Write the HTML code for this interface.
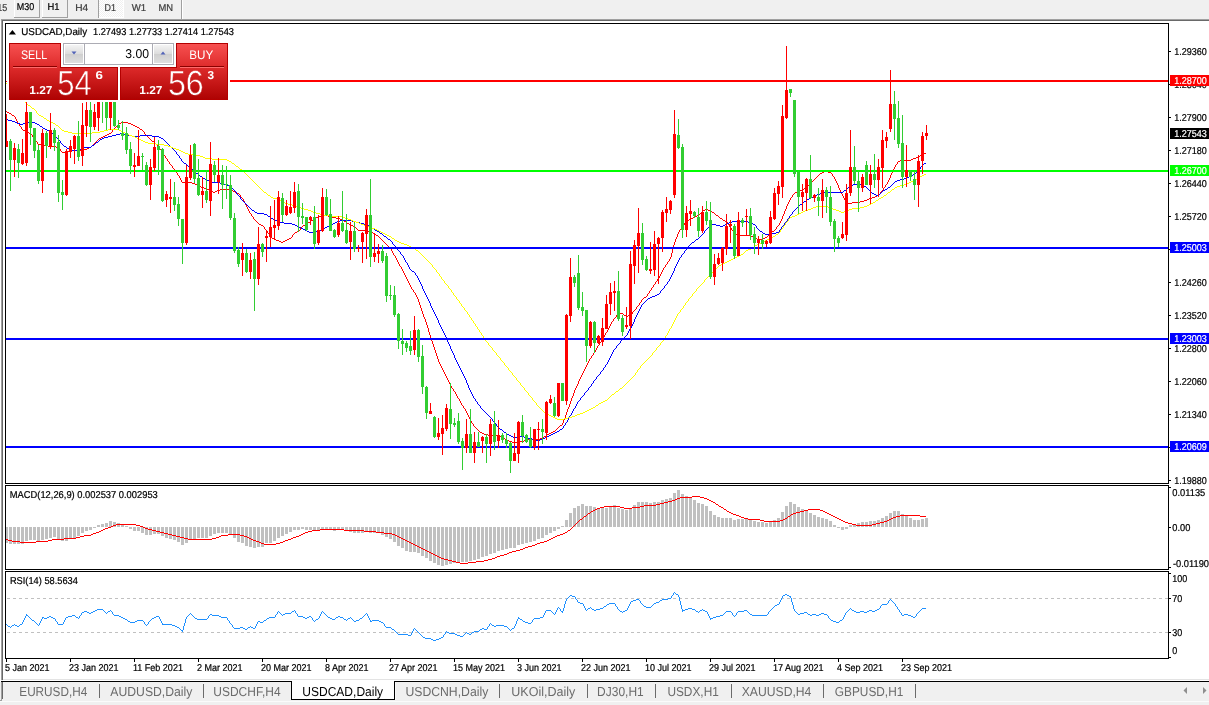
<!DOCTYPE html>
<html lang="en"><head><meta charset="utf-8"><title>USDCAD,Daily</title>
<style>
html,body{margin:0;padding:0;background:#f0f0f0;overflow:hidden}
body{width:1209px;height:705px}
svg{display:block;font-family:"Liberation Sans",sans-serif;shape-rendering:crispEdges}
text{text-rendering:geometricPrecision;white-space:pre}
</style></head><body>
<svg width="1209" height="705" viewBox="0 0 1209 705">
<rect x="0" y="0" width="1209" height="705" fill="#f0f0f0"/>
<g id="timeframe-toolbar" aria-label="Timeframe toolbar">
<text x="7.3" y="10.8" font-size="10" fill="#3c3c3c" textLength="17.5" lengthAdjust="spacingAndGlyphs" text-anchor="end" stroke="#3c3c3c" stroke-width="0.22">M15</text>
<rect x="14" y="0" width="1" height="17" fill="#fff"/>
<rect x="39" y="0" width="1" height="18" fill="#a0a0a0"/>
<rect x="14" y="17" width="26" height="1" fill="#a0a0a0"/>
<text x="16.8" y="9.6" font-size="10" fill="#000" textLength="17.4" lengthAdjust="spacingAndGlyphs" stroke="#000" stroke-width="0.22">M30</text>
<rect x="42" y="0" width="1" height="17" fill="#fff"/>
<rect x="67" y="0" width="1" height="18" fill="#a0a0a0"/>
<rect x="42" y="17" width="26" height="1" fill="#a0a0a0"/>
<text x="47.5" y="9.6" font-size="10" fill="#000" textLength="12" lengthAdjust="spacingAndGlyphs" stroke="#000" stroke-width="0.22">H1</text>
<text x="75.2" y="10.8" font-size="10" fill="#3c3c3c" textLength="13" lengthAdjust="spacingAndGlyphs" stroke="#3c3c3c" stroke-width="0.22">H4</text>
<defs><pattern id="dith" x="99" y="0" width="2" height="2" patternUnits="userSpaceOnUse"><rect width="2" height="2" fill="#f0f0f0"/><rect width="1" height="1" fill="#fff"/><rect x="1" y="1" width="1" height="1" fill="#fff"/></pattern></defs>
<rect x="99" y="0" width="24" height="17" fill="url(#dith)"/>
<rect x="98" y="0" width="1" height="18" fill="#a0a0a0"/>
<rect x="123" y="0" width="1" height="18" fill="#fff"/>
<rect x="99" y="17" width="25" height="1" fill="#fff"/>
<text x="104.6" y="10.8" font-size="10" fill="#3c3c3c" textLength="11.4" lengthAdjust="spacingAndGlyphs" stroke="#3c3c3c" stroke-width="0.22">D1</text>
<text x="131.8" y="10.8" font-size="10" fill="#3c3c3c" textLength="14.4" lengthAdjust="spacingAndGlyphs" stroke="#3c3c3c" stroke-width="0.22">W1</text>
<text x="158.4" y="10.8" font-size="10" fill="#3c3c3c" textLength="14.6" lengthAdjust="spacingAndGlyphs" stroke="#3c3c3c" stroke-width="0.22">MN</text>
<rect x="181" y="0" width="1" height="19" fill="#a0a0a0"/>
<rect x="182" y="0" width="1" height="19" fill="#fff"/>
</g>
<rect x="3" y="21" width="1206" height="658" fill="#fff"/>
<rect x="0" y="19" width="1209" height="1" fill="#a0a0a0"/>
<rect x="0" y="20" width="1209" height="1" fill="#696969"/>
<rect x="0" y="19" width="1" height="2" fill="#f0f0f0"/>
<rect x="1" y="19" width="1" height="661" fill="#a0a0a0"/>
<rect x="2" y="20" width="1" height="660" fill="#696969"/>
<rect x="0" y="21" width="1" height="680" fill="#fff"/>
<rect x="5" y="23" width="1164" height="1" fill="#000"/>
<rect x="5" y="483" width="1164" height="1" fill="#000"/>
<rect x="5" y="23" width="1" height="461" fill="#000"/>
<rect x="1168" y="23" width="1" height="461" fill="#000"/>
<rect x="5" y="485" width="1164" height="1" fill="#000"/>
<rect x="5" y="569" width="1164" height="1" fill="#000"/>
<rect x="5" y="485" width="1" height="85" fill="#000"/>
<rect x="1168" y="485" width="1" height="85" fill="#000"/>
<rect x="5" y="571" width="1164" height="1" fill="#000"/>
<rect x="5" y="658" width="1164" height="1" fill="#000"/>
<rect x="5" y="571" width="1" height="88" fill="#000"/>
<rect x="1168" y="571" width="1" height="88" fill="#000"/>
<g id="chart" aria-label="USDCAD daily chart with MACD and RSI">
<clipPath id="cm"><rect x="6" y="24" width="1162" height="459"/></clipPath>
<g clip-path="url(#cm)">
<path fill="#ff0000" d="M281 242h2v1h-2zM384 242h1v1h-1zM674 242h1v1h-1zM488 435h11v1h-11zM546 435h1v1h-1zM468 415h1v1h-1zM565 415h1v1h-1zM249 212h1v1h-1zM701 212h1v1h-1zM712 212h2v1h-2zM784 212h1v1h-1zM441 367h1v1h-1zM585 367h1v1h-1zM253 218h1v1h-1zM315 218h1v1h-1zM336 218h4v1h-4zM691 218h2v1h-2zM720 218h2v1h-2zM782 218h1v1h-1zM34 138h1v1h-1zM99 138h2v1h-2zM149 138h1v1h-1zM199 186h2v1h-2zM807 186h1v1h-1zM838 186h1v1h-1zM885 186h1v1h-1zM176 172h1v1h-1zM822 172h2v1h-2zM828 172h3v1h-3zM892 172h1v1h-1zM56 147h3v1h-3zM89 147h2v1h-2zM159 147h1v1h-1zM242 198h1v1h-1zM790 198h1v1h-1zM844 198h1v1h-1zM869 198h3v1h-3zM37 143h1v1h-1zM94 143h1v1h-1zM155 143h1v1h-1zM431 339h1v1h-1zM602 339h1v1h-1zM16 120h1v1h-1zM255 220h1v1h-1zM311 220h2v1h-2zM343 220h1v1h-1zM687 220h2v1h-2zM723 220h2v1h-2zM781 220h1v1h-1zM448 381h1v1h-1zM578 381h1v1h-1zM263 226h1v1h-1zM302 226h1v1h-1zM353 226h2v1h-2zM682 226h1v1h-1zM729 226h1v1h-1zM777 226h1v1h-1zM165 157h1v1h-1zM916 157h3v1h-3zM38 144h6v1h-6zM93 144h1v1h-1zM156 144h1v1h-1zM22 129h1v1h-1zM113 129h1v1h-1zM140 129h2v1h-2zM237 193h2v1h-2zM794 193h1v1h-1zM841 193h1v1h-1zM880 193h1v1h-1zM252 216h1v1h-1zM318 216h6v1h-6zM328 216h4v1h-4zM695 216h2v1h-2zM718 216h1v1h-1zM782 216h1v1h-1zM19 125h1v1h-1zM117 125h1v1h-1zM133 125h2v1h-2zM207 189h2v1h-2zM220 189h11v1h-11zM803 189h1v1h-1zM839 189h1v1h-1zM883 189h1v1h-1zM7 112h2v1h-2zM60 150h1v1h-1zM72 150h12v1h-12zM161 150h1v1h-1zM505 439h2v1h-2zM528 439h12v1h-12zM435 352h1v1h-1zM594 352h1v1h-1zM438 361h1v1h-1zM588 361h1v1h-1zM267 232h1v1h-1zM295 232h2v1h-2zM371 232h2v1h-2zM678 232h1v1h-1zM733 232h1v1h-1zM771 232h1v1h-1zM33 137h1v1h-1zM101 137h2v1h-2zM148 137h1v1h-1zM265 229h1v1h-1zM300 229h1v1h-1zM357 229h1v1h-1zM680 229h1v1h-1zM731 229h1v1h-1zM775 229h1v1h-1zM391 249h1v1h-1zM672 249h1v1h-1zM48 146h8v1h-8zM91 146h1v1h-1zM158 146h1v1h-1zM245 204h1v1h-1zM787 204h1v1h-1zM276 240h3v1h-3zM285 240h2v1h-2zM382 240h1v1h-1zM675 240h1v1h-1zM426 324h1v1h-1zM610 324h1v1h-1zM239 194h1v1h-1zM793 194h1v1h-1zM842 194h1v1h-1zM879 194h1v1h-1zM269 234h1v1h-1zM293 234h1v1h-1zM375 234h1v1h-1zM677 234h1v1h-1zM736 234h4v1h-4zM769 234h1v1h-1zM166 158h1v1h-1zM913 158h3v1h-3zM60 149h1v1h-1zM84 149h3v1h-3zM160 149h1v1h-1zM248 209h1v1h-1zM705 209h3v1h-3zM785 209h1v1h-1zM438 359h1v1h-1zM589 359h1v1h-1zM387 245h1v1h-1zM673 245h1v1h-1zM251 215h1v1h-1zM324 215h4v1h-4zM697 215h2v1h-2zM716 215h2v1h-2zM783 215h1v1h-1zM410 285h1v1h-1zM653 285h1v1h-1zM192 183h3v1h-3zM810 183h1v1h-1zM837 183h1v1h-1zM887 183h1v1h-1zM259 224h2v1h-2zM305 224h2v1h-2zM349 224h2v1h-2zM684 224h1v1h-1zM728 224h1v1h-1zM779 224h1v1h-1zM472 423h1v1h-1zM562 423h1v1h-1zM264 227h1v1h-1zM301 227h1v1h-1zM355 227h1v1h-1zM681 227h1v1h-1zM730 227h1v1h-1zM776 227h1v1h-1zM182 182h10v1h-10zM811 182h1v1h-1zM836 182h1v1h-1zM887 182h1v1h-1zM167 159h1v1h-1zM911 159h2v1h-2zM241 197h1v1h-1zM791 197h1v1h-1zM843 197h1v1h-1zM872 197h3v1h-3zM253 217h1v1h-1zM316 217h2v1h-2zM332 217h4v1h-4zM693 217h2v1h-2zM719 217h1v1h-1zM782 217h1v1h-1zM413 291h1v1h-1zM649 291h1v1h-1zM59 148h1v1h-1zM87 148h2v1h-2zM159 148h1v1h-1zM170 164h1v1h-1zM896 164h1v1h-1zM416 296h1v1h-1zM646 296h1v1h-1zM397 261h1v1h-1zM668 261h1v1h-1zM18 123h1v1h-1zM119 123h2v1h-2zM128 123h3v1h-3zM433 345h1v1h-1zM598 345h1v1h-1zM250 213h1v1h-1zM700 213h1v1h-1zM714 213h1v1h-1zM784 213h1v1h-1zM424 318h1v1h-1zM614 318h1v1h-1zM179 177h1v1h-1zM816 177h1v1h-1zM834 177h1v1h-1zM890 177h1v1h-1zM272 238h2v1h-2zM289 238h2v1h-2zM380 238h1v1h-1zM676 238h1v1h-1zM755 238h2v1h-2zM763 238h2v1h-2zM405 275h1v1h-1zM660 275h1v1h-1zM271 237h1v1h-1zM291 237h1v1h-1zM379 237h1v1h-1zM676 237h1v1h-1zM753 237h2v1h-2zM765 237h2v1h-2zM268 233h1v1h-1zM294 233h1v1h-1zM373 233h2v1h-2zM678 233h1v1h-1zM734 233h2v1h-2zM770 233h1v1h-1zM409 284h1v1h-1zM654 284h1v1h-1zM274 239h2v1h-2zM287 239h2v1h-2zM381 239h1v1h-1zM675 239h1v1h-1zM757 239h6v1h-6zM417 297h1v1h-1zM644 297h2v1h-2zM258 223h1v1h-1zM307 223h1v1h-1zM347 223h2v1h-2zM684 223h1v1h-1zM727 223h1v1h-1zM779 223h1v1h-1zM248 210h1v1h-1zM703 210h2v1h-2zM708 210h3v1h-3zM785 210h1v1h-1zM406 278h1v1h-1zM658 278h1v1h-1zM211 191h2v1h-2zM215 191h2v1h-2zM233 191h2v1h-2zM797 191h3v1h-3zM840 191h1v1h-1zM881 191h1v1h-1zM414 292h1v1h-1zM649 292h1v1h-1zM167 160h1v1h-1zM900 160h11v1h-11zM420 307h1v1h-1zM636 307h1v1h-1zM266 230h1v1h-1zM299 230h1v1h-1zM358 230h10v1h-10zM679 230h1v1h-1zM732 230h1v1h-1zM774 230h1v1h-1zM44 145h4v1h-4zM92 145h1v1h-1zM157 145h1v1h-1zM269 235h1v1h-1zM292 235h1v1h-1zM376 235h2v1h-2zM677 235h1v1h-1zM740 235h11v1h-11zM768 235h1v1h-1zM209 190h2v1h-2zM217 190h3v1h-3zM231 190h2v1h-2zM800 190h3v1h-3zM840 190h1v1h-1zM882 190h1v1h-1zM455 392h1v1h-1zM574 392h1v1h-1zM163 154h1v1h-1zM922 154h2v1h-2zM441 366h1v1h-1zM586 366h1v1h-1zM249 211h1v1h-1zM702 211h1v1h-1zM711 211h1v1h-1zM784 211h1v1h-1zM425 320h1v1h-1zM613 320h1v1h-1zM470 420h1v1h-1zM563 420h1v1h-1zM37 142h1v1h-1zM95 142h1v1h-1zM154 142h1v1h-1zM169 163h1v1h-1zM897 163h1v1h-1zM62 152h6v1h-6zM162 152h1v1h-1zM473 425h1v1h-1zM560 425h2v1h-2zM244 202h1v1h-1zM788 202h1v1h-1zM846 202h2v1h-2zM852 202h8v1h-8zM35 139h1v1h-1zM98 139h1v1h-1zM150 139h1v1h-1zM512 442h8v1h-8zM213 192h2v1h-2zM235 192h2v1h-2zM795 192h2v1h-2zM841 192h1v1h-1zM880 192h1v1h-1zM251 214h1v1h-1zM699 214h1v1h-1zM715 214h1v1h-1zM783 214h1v1h-1zM165 156h1v1h-1zM919 156h1v1h-1zM29 133h2v1h-2zM109 133h2v1h-2zM144 133h1v1h-1zM421 308h1v1h-1zM636 308h1v1h-1zM264 228h1v1h-1zM300 228h1v1h-1zM356 228h1v1h-1zM681 228h1v1h-1zM731 228h1v1h-1zM776 228h1v1h-1zM245 203h1v1h-1zM788 203h1v1h-1zM848 203h4v1h-4zM195 184h2v1h-2zM809 184h1v1h-1zM837 184h1v1h-1zM886 184h1v1h-1zM261 225h2v1h-2zM303 225h2v1h-2zM351 225h2v1h-2zM683 225h1v1h-1zM729 225h1v1h-1zM778 225h1v1h-1zM412 289h1v1h-1zM651 289h1v1h-1zM456 395h1v1h-1zM573 395h1v1h-1zM427 327h1v1h-1zM609 327h1v1h-1zM240 195h1v1h-1zM792 195h1v1h-1zM842 195h1v1h-1zM877 195h2v1h-2zM423 316h1v1h-1zM616 316h1v1h-1zM626 316h2v1h-2zM432 341h1v1h-1zM601 341h1v1h-1zM413 290h1v1h-1zM650 290h1v1h-1zM507 440h2v1h-2zM524 440h4v1h-4zM416 295h1v1h-1zM647 295h1v1h-1zM479 431h1v1h-1zM553 431h2v1h-2zM244 201h1v1h-1zM789 201h1v1h-1zM845 201h1v1h-1zM860 201h4v1h-4zM434 349h1v1h-1zM596 349h1v1h-1zM404 274h1v1h-1zM660 274h1v1h-1zM499 436h2v1h-2zM544 436h2v1h-2zM15 118h1v1h-1zM35 140h1v1h-1zM97 140h1v1h-1zM151 140h1v1h-1zM409 283h1v1h-1zM655 283h1v1h-1zM476 428h1v1h-1zM557 428h1v1h-1zM180 179h1v1h-1zM814 179h1v1h-1zM835 179h1v1h-1zM889 179h1v1h-1zM482 433h2v1h-2zM549 433h2v1h-2zM429 334h1v1h-1zM605 334h1v1h-1zM175 171h1v1h-1zM824 171h4v1h-4zM892 171h1v1h-1zM422 313h1v1h-1zM618 313h5v1h-5zM632 313h1v1h-1zM204 188h3v1h-3zM804 188h2v1h-2zM839 188h1v1h-1zM883 188h1v1h-1zM440 364h1v1h-1zM587 364h1v1h-1zM420 306h1v1h-1zM637 306h1v1h-1zM469 418h1v1h-1zM564 418h1v1h-1zM401 267h1v1h-1zM664 267h1v1h-1zM398 263h1v1h-1zM667 263h1v1h-1zM25 131h2v1h-2zM112 131h1v1h-1zM143 131h1v1h-1zM240 196h1v1h-1zM792 196h1v1h-1zM843 196h1v1h-1zM875 196h2v1h-2zM243 199h1v1h-1zM790 199h1v1h-1zM844 199h1v1h-1zM867 199h2v1h-2zM256 221h1v1h-1zM310 221h1v1h-1zM344 221h2v1h-2zM686 221h1v1h-1zM725 221h2v1h-2zM780 221h1v1h-1zM408 281h1v1h-1zM656 281h1v1h-1zM425 319h1v1h-1zM613 319h1v1h-1zM426 322h1v1h-1zM611 322h1v1h-1zM270 236h1v1h-1zM292 236h1v1h-1zM378 236h1v1h-1zM677 236h1v1h-1zM751 236h2v1h-2zM767 236h1v1h-1zM470 419h1v1h-1zM564 419h1v1h-1zM169 162h1v1h-1zM897 162h1v1h-1zM243 200h1v1h-1zM789 200h1v1h-1zM845 200h1v1h-1zM864 200h3v1h-3zM257 222h1v1h-1zM308 222h2v1h-2zM346 222h1v1h-1zM685 222h1v1h-1zM727 222h1v1h-1zM780 222h1v1h-1zM17 122h1v1h-1zM121 122h7v1h-7zM473 424h1v1h-1zM562 424h1v1h-1zM177 174h1v1h-1zM819 174h1v1h-1zM832 174h1v1h-1zM891 174h1v1h-1zM172 167h1v1h-1zM894 167h1v1h-1zM419 304h1v1h-1zM639 304h1v1h-1zM392 252h1v1h-1zM672 252h1v1h-1zM423 315h1v1h-1zM616 315h1v1h-1zM624 315h2v1h-2zM628 315h3v1h-3zM267 231h1v1h-1zM297 231h2v1h-2zM368 231h3v1h-3zM679 231h1v1h-1zM733 231h1v1h-1zM772 231h2v1h-2zM408 282h1v1h-1zM655 282h1v1h-1zM395 256h1v1h-1zM671 256h1v1h-1zM471 421h1v1h-1zM563 421h1v1h-1zM480 432h2v1h-2zM551 432h2v1h-2zM427 326h1v1h-1zM609 326h1v1h-1zM451 387h1v1h-1zM576 387h1v1h-1zM503 438h2v1h-2zM540 438h3v1h-3zM405 276h1v1h-1zM659 276h1v1h-1zM254 219h1v1h-1zM313 219h2v1h-2zM340 219h3v1h-3zM689 219h2v1h-2zM722 219h1v1h-1zM781 219h1v1h-1zM14 116h1v1h-1zM386 244h1v1h-1zM674 244h1v1h-1zM501 437h2v1h-2zM543 437h1v1h-1zM415 294h1v1h-1zM647 294h1v1h-1zM61 151h1v1h-1zM68 151h4v1h-4zM161 151h1v1h-1zM446 376h1v1h-1zM581 376h1v1h-1zM406 277h1v1h-1zM659 277h1v1h-1zM484 434h4v1h-4zM547 434h2v1h-2zM429 333h1v1h-1zM605 333h1v1h-1zM428 329h1v1h-1zM608 329h1v1h-1zM247 207h1v1h-1zM786 207h1v1h-1zM437 358h1v1h-1zM590 358h1v1h-1zM398 262h1v1h-1zM667 262h1v1h-1zM461 404h1v1h-1zM569 404h1v1h-1zM469 417h1v1h-1zM565 417h1v1h-1zM462 405h1v1h-1zM569 405h1v1h-1zM415 293h1v1h-1zM648 293h1v1h-1zM172 166h1v1h-1zM895 166h1v1h-1zM430 336h1v1h-1zM604 336h1v1h-1zM419 303h1v1h-1zM639 303h1v1h-1zM163 153h1v1h-1zM924 153h2v1h-2zM23 130h2v1h-2zM112 130h1v1h-1zM142 130h1v1h-1zM394 255h1v1h-1zM671 255h1v1h-1zM21 128h1v1h-1zM114 128h1v1h-1zM139 128h1v1h-1zM402 269h1v1h-1zM663 269h1v1h-1zM164 155h1v1h-1zM920 155h2v1h-2zM509 441h3v1h-3zM520 441h4v1h-4zM451 386h1v1h-1zM576 386h1v1h-1zM450 384h1v1h-1zM577 384h1v1h-1zM478 430h1v1h-1zM555 430h1v1h-1zM178 175h1v1h-1zM818 175h1v1h-1zM832 175h1v1h-1zM890 175h1v1h-1zM9 113h2v1h-2zM279 241h2v1h-2zM283 241h2v1h-2zM383 241h1v1h-1zM675 241h1v1h-1zM396 258h1v1h-1zM670 258h1v1h-1zM246 205h1v1h-1zM787 205h1v1h-1zM468 416h1v1h-1zM565 416h1v1h-1zM457 397h1v1h-1zM572 397h1v1h-1zM465 410h1v1h-1zM567 410h1v1h-1zM453 389h1v1h-1zM575 389h1v1h-1zM20 126h1v1h-1zM116 126h1v1h-1zM135 126h2v1h-2zM439 363h1v1h-1zM587 363h1v1h-1zM418 299h1v1h-1zM642 299h1v1h-1zM450 385h1v1h-1zM577 385h1v1h-1zM458 398h1v1h-1zM571 398h1v1h-1zM12 115h2v1h-2zM461 403h1v1h-1zM570 403h1v1h-1zM201 187h3v1h-3zM806 187h1v1h-1zM838 187h1v1h-1zM884 187h1v1h-1zM435 350h1v1h-1zM595 350h1v1h-1zM407 279h1v1h-1zM657 279h1v1h-1zM425 321h1v1h-1zM612 321h1v1h-1zM247 208h1v1h-1zM786 208h1v1h-1zM17 121h1v1h-1zM424 317h1v1h-1zM615 317h1v1h-1zM437 356h1v1h-1zM591 356h1v1h-1zM19 124h1v1h-1zM118 124h1v1h-1zM131 124h2v1h-2zM6 111h1v1h-1zM393 254h1v1h-1zM671 254h1v1h-1zM439 362h1v1h-1zM588 362h1v1h-1zM431 338h1v1h-1zM603 338h1v1h-1zM171 165h1v1h-1zM895 165h1v1h-1zM475 427h1v1h-1zM558 427h1v1h-1zM453 390h1v1h-1zM574 390h1v1h-1zM27 132h2v1h-2zM111 132h1v1h-1zM144 132h1v1h-1zM395 257h1v1h-1zM670 257h1v1h-1zM444 373h1v1h-1zM582 373h1v1h-1zM474 426h1v1h-1zM559 426h1v1h-1zM168 161h1v1h-1zM898 161h2v1h-2zM459 400h1v1h-1zM571 400h1v1h-1zM449 383h1v1h-1zM578 383h1v1h-1zM457 396h1v1h-1zM572 396h1v1h-1zM181 180h1v1h-1zM813 180h1v1h-1zM835 180h1v1h-1zM888 180h1v1h-1zM452 388h1v1h-1zM575 388h1v1h-1zM428 331h1v1h-1zM607 331h1v1h-1zM21 127h1v1h-1zM115 127h1v1h-1zM137 127h2v1h-2zM403 272h1v1h-1zM661 272h1v1h-1zM197 185h2v1h-2zM808 185h1v1h-1zM838 185h1v1h-1zM885 185h1v1h-1zM32 136h1v1h-1zM103 136h2v1h-2zM147 136h1v1h-1zM16 119h1v1h-1zM399 264h1v1h-1zM666 264h1v1h-1zM428 328h1v1h-1zM608 328h1v1h-1zM438 360h1v1h-1zM589 360h1v1h-1zM400 266h1v1h-1zM665 266h1v1h-1zM420 305h1v1h-1zM638 305h1v1h-1zM467 414h1v1h-1zM566 414h1v1h-1zM418 301h1v1h-1zM641 301h1v1h-1zM31 134h1v1h-1zM107 134h2v1h-2zM145 134h1v1h-1zM460 402h1v1h-1zM570 402h1v1h-1zM403 271h1v1h-1zM662 271h1v1h-1zM422 311h1v1h-1zM633 311h1v1h-1zM464 408h1v1h-1zM568 408h1v1h-1zM177 173h1v1h-1zM820 173h2v1h-2zM831 173h1v1h-1zM891 173h1v1h-1zM36 141h1v1h-1zM96 141h1v1h-1zM152 141h2v1h-2zM397 260h1v1h-1zM669 260h1v1h-1zM446 377h1v1h-1zM580 377h1v1h-1zM399 265h1v1h-1zM665 265h1v1h-1zM449 382h1v1h-1zM578 382h1v1h-1zM390 248h1v1h-1zM673 248h1v1h-1zM402 270h1v1h-1zM662 270h1v1h-1zM454 391h1v1h-1zM574 391h1v1h-1zM440 365h1v1h-1zM586 365h1v1h-1zM388 246h1v1h-1zM673 246h1v1h-1zM396 259h1v1h-1zM669 259h1v1h-1zM463 407h1v1h-1zM568 407h1v1h-1zM466 412h1v1h-1zM566 412h1v1h-1zM430 337h1v1h-1zM603 337h1v1h-1zM173 168h1v1h-1zM894 168h1v1h-1zM181 181h1v1h-1zM812 181h1v1h-1zM836 181h1v1h-1zM888 181h1v1h-1zM463 406h1v1h-1zM569 406h1v1h-1zM467 413h1v1h-1zM566 413h1v1h-1zM418 300h1v1h-1zM641 300h1v1h-1zM456 394h1v1h-1zM573 394h1v1h-1zM174 169h1v1h-1zM893 169h1v1h-1zM460 401h1v1h-1zM570 401h1v1h-1zM431 340h1v1h-1zM601 340h1v1h-1zM434 348h1v1h-1zM596 348h1v1h-1zM15 117h1v1h-1zM445 375h1v1h-1zM581 375h1v1h-1zM434 347h1v1h-1zM597 347h1v1h-1zM404 273h1v1h-1zM661 273h1v1h-1zM389 247h1v1h-1zM673 247h1v1h-1zM180 178h1v1h-1zM815 178h1v1h-1zM834 178h1v1h-1zM889 178h1v1h-1zM392 251h1v1h-1zM672 251h1v1h-1zM455 393h1v1h-1zM573 393h1v1h-1zM436 354h1v1h-1zM593 354h1v1h-1zM466 411h1v1h-1zM567 411h1v1h-1zM407 280h1v1h-1zM657 280h1v1h-1zM442 368h1v1h-1zM585 368h1v1h-1zM11 114h1v1h-1zM459 399h1v1h-1zM571 399h1v1h-1zM411 287h1v1h-1zM652 287h1v1h-1zM448 380h1v1h-1zM579 380h1v1h-1zM423 314h1v1h-1zM617 314h1v1h-1zM623 314h1v1h-1zM631 314h1v1h-1zM433 346h1v1h-1zM597 346h1v1h-1zM427 325h1v1h-1zM610 325h1v1h-1zM437 357h1v1h-1zM591 357h1v1h-1zM391 250h1v1h-1zM672 250h1v1h-1zM477 429h1v1h-1zM556 429h1v1h-1zM422 312h1v1h-1zM632 312h1v1h-1zM447 378h1v1h-1zM580 378h1v1h-1zM430 335h1v1h-1zM604 335h1v1h-1zM447 379h1v1h-1zM579 379h1v1h-1zM179 176h1v1h-1zM817 176h1v1h-1zM833 176h1v1h-1zM890 176h1v1h-1zM436 353h1v1h-1zM593 353h1v1h-1zM401 268h1v1h-1zM663 268h1v1h-1zM32 135h1v1h-1zM105 135h2v1h-2zM146 135h1v1h-1zM419 302h1v1h-1zM640 302h1v1h-1zM432 342h1v1h-1zM600 342h1v1h-1zM421 309h1v1h-1zM635 309h1v1h-1zM443 370h1v1h-1zM584 370h1v1h-1zM436 355h1v1h-1zM592 355h1v1h-1zM465 409h1v1h-1zM567 409h1v1h-1zM393 253h1v1h-1zM671 253h1v1h-1zM444 372h1v1h-1zM583 372h1v1h-1zM433 344h1v1h-1zM599 344h1v1h-1zM426 323h1v1h-1zM611 323h1v1h-1zM442 369h1v1h-1zM584 369h1v1h-1zM175 170h1v1h-1zM893 170h1v1h-1zM411 288h1v1h-1zM651 288h1v1h-1zM471 422h1v1h-1zM563 422h1v1h-1zM428 330h1v1h-1zM607 330h1v1h-1zM443 371h1v1h-1zM583 371h1v1h-1zM417 298h1v1h-1zM643 298h1v1h-1zM432 343h1v1h-1zM599 343h1v1h-1zM246 206h1v1h-1zM786 206h1v1h-1zM435 351h1v1h-1zM595 351h1v1h-1zM385 243h1v1h-1zM674 243h1v1h-1zM421 310h1v1h-1zM634 310h1v1h-1zM429 332h1v1h-1zM606 332h1v1h-1zM410 286h1v1h-1zM653 286h1v1h-1zM445 374h1v1h-1zM582 374h1v1h-1z"/>
<path fill="#0000ff" d="M17 123h3v1h-3zM23 123h2v1h-2zM35 123h2v1h-2zM422 287h1v1h-1zM664 287h1v1h-1zM178 155h1v1h-1zM499 428h1v1h-1zM562 428h1v1h-1zM45 129h2v1h-2zM496 424h1v1h-1zM565 424h1v1h-1zM440 325h1v1h-1zM632 325h1v1h-1zM236 192h1v1h-1zM824 192h19v1h-19zM871 192h1v1h-1zM881 192h1v1h-1zM432 309h1v1h-1zM639 309h1v1h-1zM506 433h1v1h-1zM553 433h2v1h-2zM435 314h1v1h-1zM637 314h1v1h-1zM511 436h2v1h-2zM520 436h4v1h-4zM547 436h2v1h-2zM292 224h3v1h-3zM331 224h2v1h-2zM364 224h3v1h-3zM712 224h4v1h-4zM725 224h2v1h-2zM753 224h2v1h-2zM784 224h1v1h-1zM388 239h2v1h-2zM696 239h2v1h-2zM504 432h2v1h-2zM555 432h2v1h-2zM58 139h1v1h-1zM100 139h2v1h-2zM163 139h1v1h-1zM227 185h2v1h-2zM851 185h2v1h-2zM863 185h1v1h-1zM891 185h1v1h-1zM234 190h1v1h-1zM844 190h2v1h-2zM869 190h1v1h-1zM883 190h2v1h-2zM52 133h1v1h-1zM120 133h4v1h-4zM384 236h2v1h-2zM700 236h1v1h-1zM271 218h2v1h-2zM788 218h1v1h-1zM67 148h2v1h-2zM81 148h3v1h-3zM172 148h1v1h-1zM446 338h1v1h-1zM623 338h1v1h-1zM229 186h2v1h-2zM850 186h1v1h-1zM864 186h2v1h-2zM890 186h1v1h-1zM280 222h4v1h-4zM335 222h2v1h-2zM356 222h4v1h-4zM729 222h3v1h-3zM748 222h3v1h-3zM785 222h1v1h-1zM277 221h3v1h-3zM337 221h3v1h-3zM352 221h4v1h-4zM732 221h16v1h-16zM786 221h1v1h-1zM513 437h7v1h-7zM524 437h4v1h-4zM545 437h2v1h-2zM490 417h1v1h-1zM569 417h1v1h-1zM247 205h1v1h-1zM799 205h1v1h-1zM64 146h2v1h-2zM91 146h1v1h-1zM170 146h1v1h-1zM297 226h2v1h-2zM327 226h2v1h-2zM369 226h2v1h-2zM709 226h1v1h-1zM720 226h3v1h-3zM756 226h1v1h-1zM782 226h1v1h-1zM443 332h1v1h-1zM628 332h1v1h-1zM240 197h1v1h-1zM811 197h2v1h-2zM295 225h2v1h-2zM329 225h2v1h-2zM367 225h2v1h-2zM710 225h2v1h-2zM716 225h4v1h-4zM723 225h2v1h-2zM755 225h1v1h-1zM783 225h1v1h-1zM15 122h2v1h-2zM25 122h10v1h-10zM507 434h2v1h-2zM551 434h2v1h-2zM57 138h1v1h-1zM102 138h2v1h-2zM161 138h2v1h-2zM244 202h1v1h-1zM803 202h1v1h-1zM200 176h2v1h-2zM909 176h2v1h-2zM380 233h2v1h-2zM703 233h1v1h-1zM763 233h2v1h-2zM772 233h4v1h-4zM56 137h1v1h-1zM104 137h4v1h-4zM159 137h2v1h-2zM395 246h1v1h-1zM688 246h1v1h-1zM61 143h1v1h-1zM95 143h1v1h-1zM167 143h1v1h-1zM424 291h1v1h-1zM660 291h1v1h-1zM72 150h7v1h-7zM174 150h1v1h-1zM408 265h1v1h-1zM676 265h1v1h-1zM477 402h1v1h-1zM577 402h1v1h-1zM241 199h1v1h-1zM807 199h2v1h-2zM453 354h1v1h-1zM611 354h1v1h-1zM396 247h1v1h-1zM688 247h1v1h-1zM66 147h1v1h-1zM84 147h7v1h-7zM171 147h1v1h-1zM220 183h4v1h-4zM893 183h1v1h-1zM250 208h1v1h-1zM796 208h1v1h-1zM438 320h1v1h-1zM634 320h1v1h-1zM181 160h1v1h-1zM275 220h2v1h-2zM340 220h12v1h-12zM787 220h1v1h-1zM193 170h1v1h-1zM918 170h1v1h-1zM69 149h3v1h-3zM79 149h2v1h-2zM173 149h1v1h-1zM467 383h1v1h-1zM592 383h1v1h-1zM236 193h1v1h-1zM820 193h4v1h-4zM872 193h2v1h-2zM880 193h1v1h-1zM55 136h1v1h-1zM108 136h4v1h-4zM132 136h8v1h-8zM152 136h7v1h-7zM224 184h3v1h-3zM853 184h10v1h-10zM892 184h1v1h-1zM421 285h1v1h-1zM665 285h1v1h-1zM53 134h1v1h-1zM116 134h4v1h-4zM124 134h4v1h-4zM307 231h2v1h-2zM316 231h3v1h-3zM377 231h2v1h-2zM704 231h1v1h-1zM760 231h2v1h-2zM779 231h1v1h-1zM264 214h3v1h-3zM791 214h1v1h-1zM509 435h2v1h-2zM549 435h2v1h-2zM489 416h1v1h-1zM569 416h1v1h-1zM431 307h1v1h-1zM640 307h1v1h-1zM449 345h1v1h-1zM617 345h1v1h-1zM482 409h1v1h-1zM573 409h1v1h-1zM464 376h1v1h-1zM597 376h1v1h-1zM284 223h8v1h-8zM333 223h2v1h-2zM360 223h4v1h-4zM727 223h2v1h-2zM751 223h2v1h-2zM784 223h1v1h-1zM447 341h1v1h-1zM620 341h1v1h-1zM422 286h1v1h-1zM664 286h1v1h-1zM420 282h1v1h-1zM667 282h1v1h-1zM54 135h1v1h-1zM112 135h4v1h-4zM128 135h4v1h-4zM140 135h12v1h-12zM455 359h1v1h-1zM609 359h1v1h-1zM439 324h1v1h-1zM632 324h1v1h-1zM20 124h3v1h-3zM37 124h2v1h-2zM432 308h1v1h-1zM640 308h1v1h-1zM464 377h1v1h-1zM596 377h1v1h-1zM445 336h1v1h-1zM625 336h1v1h-1zM212 182h8v1h-8zM894 182h1v1h-1zM475 399h1v1h-1zM580 399h1v1h-1zM255 212h2v1h-2zM792 212h1v1h-1zM403 257h1v1h-1zM680 257h1v1h-1zM6 119h2v1h-2zM231 187h1v1h-1zM848 187h2v1h-2zM866 187h1v1h-1zM888 187h2v1h-2zM446 337h1v1h-1zM624 337h1v1h-1zM382 234h1v1h-1zM702 234h1v1h-1zM765 234h7v1h-7zM427 297h1v1h-1zM650 297h2v1h-2zM416 275h1v1h-1zM671 275h1v1h-1zM63 145h1v1h-1zM92 145h2v1h-2zM169 145h1v1h-1zM8 120h4v1h-4zM203 178h2v1h-2zM904 178h3v1h-3zM383 235h1v1h-1zM701 235h1v1h-1zM245 203h1v1h-1zM802 203h1v1h-1zM40 126h2v1h-2zM442 330h1v1h-1zM629 330h1v1h-1zM459 366h1v1h-1zM605 366h1v1h-1zM423 289h1v1h-1zM662 289h1v1h-1zM443 331h1v1h-1zM628 331h1v1h-1zM188 166h2v1h-2zM921 166h1v1h-1zM238 195h1v1h-1zM815 195h2v1h-2zM876 195h3v1h-3zM500 429h2v1h-2zM560 429h2v1h-2zM452 352h1v1h-1zM612 352h1v1h-1zM191 168h1v1h-1zM920 168h1v1h-1zM532 439h4v1h-4zM540 439h3v1h-3zM209 181h3v1h-3zM895 181h2v1h-2zM407 264h1v1h-1zM676 264h1v1h-1zM426 295h1v1h-1zM655 295h2v1h-2zM469 389h1v1h-1zM588 389h1v1h-1zM60 142h1v1h-1zM96 142h2v1h-2zM166 142h1v1h-1zM429 302h1v1h-1zM644 302h1v1h-1zM453 353h1v1h-1zM612 353h1v1h-1zM192 169h1v1h-1zM919 169h1v1h-1zM462 372h1v1h-1zM600 372h1v1h-1zM392 243h1v1h-1zM691 243h1v1h-1zM466 381h1v1h-1zM593 381h1v1h-1zM460 368h1v1h-1zM603 368h1v1h-1zM181 159h1v1h-1zM252 210h2v1h-2zM794 210h1v1h-1zM305 230h2v1h-2zM319 230h2v1h-2zM375 230h2v1h-2zM705 230h1v1h-1zM759 230h1v1h-1zM779 230h1v1h-1zM528 438h4v1h-4zM543 438h2v1h-2zM205 179h2v1h-2zM900 179h4v1h-4zM400 253h1v1h-1zM683 253h1v1h-1zM237 194h1v1h-1zM817 194h3v1h-3zM874 194h2v1h-2zM879 194h1v1h-1zM397 249h1v1h-1zM686 249h1v1h-1zM431 306h1v1h-1zM641 306h1v1h-1zM409 267h1v1h-1zM675 267h1v1h-1zM492 420h1v1h-1zM567 420h1v1h-1zM207 180h2v1h-2zM897 180h3v1h-3zM301 228h2v1h-2zM323 228h2v1h-2zM372 228h2v1h-2zM707 228h1v1h-1zM757 228h1v1h-1zM781 228h1v1h-1zM12 121h3v1h-3zM473 397h1v1h-1zM581 397h1v1h-1zM445 335h1v1h-1zM626 335h1v1h-1zM474 398h1v1h-1zM580 398h1v1h-1zM428 299h1v1h-1zM647 299h1v1h-1zM273 219h2v1h-2zM787 219h1v1h-1zM202 177h1v1h-1zM907 177h2v1h-2zM398 250h1v1h-1zM685 250h1v1h-1zM184 163h2v1h-2zM924 163h2v1h-2zM411 270h1v1h-1zM674 270h1v1h-1zM436 316h1v1h-1zM636 316h1v1h-1zM450 347h1v1h-1zM616 347h1v1h-1zM299 227h2v1h-2zM325 227h2v1h-2zM371 227h1v1h-1zM708 227h1v1h-1zM756 227h1v1h-1zM781 227h1v1h-1zM420 283h1v1h-1zM667 283h1v1h-1zM422 288h1v1h-1zM663 288h1v1h-1zM233 189h1v1h-1zM846 189h1v1h-1zM868 189h1v1h-1zM885 189h2v1h-2zM390 240h1v1h-1zM695 240h1v1h-1zM257 213h7v1h-7zM792 213h1v1h-1zM180 158h1v1h-1zM412 271h2v1h-2zM673 271h1v1h-1zM251 209h1v1h-1zM795 209h1v1h-1zM452 351h1v1h-1zM613 351h1v1h-1zM479 405h1v1h-1zM576 405h1v1h-1zM434 312h1v1h-1zM638 312h1v1h-1zM309 232h7v1h-7zM379 232h1v1h-1zM704 232h1v1h-1zM762 232h1v1h-1zM776 232h3v1h-3zM404 259h1v1h-1zM679 259h1v1h-1zM240 198h1v1h-1zM809 198h2v1h-2zM469 388h1v1h-1zM588 388h1v1h-1zM492 419h1v1h-1zM568 419h1v1h-1zM463 375h1v1h-1zM598 375h1v1h-1zM425 294h1v1h-1zM657 294h2v1h-2zM466 380h1v1h-1zM594 380h1v1h-1zM444 334h1v1h-1zM627 334h1v1h-1zM303 229h2v1h-2zM321 229h2v1h-2zM374 229h1v1h-1zM706 229h1v1h-1zM758 229h1v1h-1zM780 229h1v1h-1zM430 305h1v1h-1zM641 305h1v1h-1zM417 277h1v1h-1zM670 277h1v1h-1zM60 141h1v1h-1zM98 141h1v1h-1zM165 141h1v1h-1zM187 165h1v1h-1zM922 165h1v1h-1zM268 216h2v1h-2zM789 216h1v1h-1zM198 174h1v1h-1zM913 174h2v1h-2zM485 412h1v1h-1zM572 412h1v1h-1zM477 403h1v1h-1zM577 403h1v1h-1zM441 328h1v1h-1zM630 328h1v1h-1zM408 266h1v1h-1zM675 266h1v1h-1zM441 327h1v1h-1zM631 327h1v1h-1zM470 391h1v1h-1zM586 391h1v1h-1zM448 343h1v1h-1zM619 343h1v1h-1zM463 374h1v1h-1zM599 374h1v1h-1zM473 396h1v1h-1zM582 396h1v1h-1zM421 284h1v1h-1zM666 284h1v1h-1zM484 411h1v1h-1zM572 411h1v1h-1zM235 191h1v1h-1zM843 191h1v1h-1zM870 191h1v1h-1zM882 191h1v1h-1zM419 281h1v1h-1zM668 281h1v1h-1zM467 384h1v1h-1zM591 384h1v1h-1zM410 269h1v1h-1zM674 269h1v1h-1zM232 188h1v1h-1zM847 188h1v1h-1zM867 188h1v1h-1zM887 188h1v1h-1zM179 156h1v1h-1zM430 304h1v1h-1zM642 304h1v1h-1zM433 310h1v1h-1zM639 310h1v1h-1zM462 373h1v1h-1zM600 373h1v1h-1zM426 296h1v1h-1zM652 296h3v1h-3zM491 418h1v1h-1zM568 418h1v1h-1zM392 242h1v1h-1zM692 242h2v1h-2zM248 206h1v1h-1zM798 206h1v1h-1zM47 130h2v1h-2zM444 333h1v1h-1zM627 333h1v1h-1zM536 440h4v1h-4zM433 311h1v1h-1zM638 311h1v1h-1zM440 326h1v1h-1zM631 326h1v1h-1zM454 356h1v1h-1zM610 356h1v1h-1zM480 407h1v1h-1zM575 407h1v1h-1zM451 350h1v1h-1zM613 350h1v1h-1zM446 339h1v1h-1zM622 339h1v1h-1zM51 132h1v1h-1zM43 128h2v1h-2zM454 355h1v1h-1zM611 355h1v1h-1zM470 390h1v1h-1zM587 390h1v1h-1zM267 215h1v1h-1zM790 215h1v1h-1zM415 274h1v1h-1zM672 274h1v1h-1zM182 161h1v1h-1zM451 349h1v1h-1zM614 349h1v1h-1zM183 162h1v1h-1zM465 378h1v1h-1zM596 378h1v1h-1zM475 400h1v1h-1zM579 400h1v1h-1zM194 171h1v1h-1zM917 171h1v1h-1zM419 280h1v1h-1zM669 280h1v1h-1zM401 254h1v1h-1zM682 254h1v1h-1zM487 414h1v1h-1zM571 414h1v1h-1zM461 371h1v1h-1zM601 371h1v1h-1zM414 272h1v1h-1zM673 272h1v1h-1zM186 164h1v1h-1zM923 164h1v1h-1zM239 196h1v1h-1zM813 196h2v1h-2zM472 395h1v1h-1zM583 395h1v1h-1zM190 167h1v1h-1zM920 167h1v1h-1zM59 140h1v1h-1zM99 140h1v1h-1zM164 140h1v1h-1zM428 300h1v1h-1zM646 300h1v1h-1zM494 422h1v1h-1zM566 422h1v1h-1zM461 370h1v1h-1zM602 370h1v1h-1zM405 261h1v1h-1zM678 261h1v1h-1zM476 401h1v1h-1zM578 401h1v1h-1zM493 421h1v1h-1zM567 421h1v1h-1zM468 386h1v1h-1zM590 386h1v1h-1zM393 244h1v1h-1zM690 244h1v1h-1zM49 131h2v1h-2zM246 204h1v1h-1zM800 204h2v1h-2zM42 127h1v1h-1zM418 279h1v1h-1zM669 279h1v1h-1zM450 348h1v1h-1zM615 348h1v1h-1zM254 211h1v1h-1zM793 211h1v1h-1zM495 423h1v1h-1zM565 423h1v1h-1zM438 321h1v1h-1zM634 321h1v1h-1zM415 273h1v1h-1zM672 273h1v1h-1zM434 313h1v1h-1zM637 313h1v1h-1zM39 125h1v1h-1zM458 365h1v1h-1zM605 365h1v1h-1zM471 393h1v1h-1zM584 393h1v1h-1zM472 394h1v1h-1zM584 394h1v1h-1zM424 292h1v1h-1zM660 292h1v1h-1zM196 173h2v1h-2zM915 173h1v1h-1zM468 387h1v1h-1zM589 387h1v1h-1zM400 252h1v1h-1zM684 252h1v1h-1zM486 413h1v1h-1zM571 413h1v1h-1zM471 392h1v1h-1zM585 392h1v1h-1zM199 175h1v1h-1zM911 175h2v1h-2zM455 358h1v1h-1zM609 358h1v1h-1zM457 363h1v1h-1zM607 363h1v1h-1zM399 251h1v1h-1zM684 251h1v1h-1zM466 382h1v1h-1zM593 382h1v1h-1zM478 404h1v1h-1zM576 404h1v1h-1zM442 329h1v1h-1zM629 329h1v1h-1zM456 361h1v1h-1zM608 361h1v1h-1zM386 237h1v1h-1zM699 237h1v1h-1zM243 201h1v1h-1zM804 201h2v1h-2zM427 298h1v1h-1zM648 298h2v1h-2zM418 278h1v1h-1zM670 278h1v1h-1zM460 369h1v1h-1zM603 369h1v1h-1zM62 144h1v1h-1zM94 144h1v1h-1zM168 144h1v1h-1zM450 346h1v1h-1zM616 346h1v1h-1zM270 217h1v1h-1zM789 217h1v1h-1zM447 340h1v1h-1zM621 340h1v1h-1zM409 268h1v1h-1zM674 268h1v1h-1zM439 323h1v1h-1zM633 323h1v1h-1zM438 322h1v1h-1zM633 322h1v1h-1zM406 262h1v1h-1zM677 262h1v1h-1zM503 431h1v1h-1zM557 431h2v1h-2zM435 315h1v1h-1zM636 315h1v1h-1zM402 255h1v1h-1zM681 255h1v1h-1zM456 360h1v1h-1zM608 360h1v1h-1zM404 258h1v1h-1zM679 258h1v1h-1zM417 276h1v1h-1zM671 276h1v1h-1zM459 367h1v1h-1zM604 367h1v1h-1zM449 344h1v1h-1zM618 344h1v1h-1zM496 425h1v1h-1zM564 425h1v1h-1zM391 241h1v1h-1zM694 241h1v1h-1zM396 248h1v1h-1zM687 248h1v1h-1zM481 408h1v1h-1zM574 408h1v1h-1zM195 172h1v1h-1zM916 172h1v1h-1zM177 154h1v1h-1zM242 200h1v1h-1zM806 200h1v1h-1zM437 318h1v1h-1zM635 318h1v1h-1zM430 303h1v1h-1zM643 303h1v1h-1zM425 293h1v1h-1zM659 293h1v1h-1zM480 406h1v1h-1zM575 406h1v1h-1zM423 290h1v1h-1zM661 290h1v1h-1zM405 260h1v1h-1zM678 260h1v1h-1zM502 430h1v1h-1zM559 430h1v1h-1zM387 238h1v1h-1zM698 238h1v1h-1zM448 342h1v1h-1zM620 342h1v1h-1zM488 415h1v1h-1zM570 415h1v1h-1zM498 427h1v1h-1zM563 427h1v1h-1zM465 379h1v1h-1zM595 379h1v1h-1zM457 362h1v1h-1zM607 362h1v1h-1zM394 245h1v1h-1zM689 245h1v1h-1zM436 317h1v1h-1zM635 317h1v1h-1zM437 319h1v1h-1zM634 319h1v1h-1zM176 153h1v1h-1zM429 301h1v1h-1zM645 301h1v1h-1zM458 364h1v1h-1zM606 364h1v1h-1zM497 426h1v1h-1zM563 426h1v1h-1zM454 357h1v1h-1zM610 357h1v1h-1zM407 263h1v1h-1zM677 263h1v1h-1zM249 207h1v1h-1zM797 207h1v1h-1zM175 151h1v1h-1zM468 385h1v1h-1zM591 385h1v1h-1zM176 152h1v1h-1zM179 157h1v1h-1zM403 256h1v1h-1zM681 256h1v1h-1zM483 410h1v1h-1zM573 410h1v1h-1z"/>
<path fill="#ffff00" d="M557 419h7v1h-7zM535 402h1v1h-1zM601 402h2v1h-2zM332 216h11v1h-11zM792 216h3v1h-3zM484 338h1v1h-1zM664 338h1v1h-1zM16 93h1v1h-1zM485 340h1v1h-1zM663 340h1v1h-1zM466 311h1v1h-1zM680 311h1v1h-1zM436 270h1v1h-1zM714 270h1v1h-1zM261 189h1v1h-1zM892 189h2v1h-2zM296 206h3v1h-3zM816 206h12v1h-12zM864 206h3v1h-3zM299 207h2v1h-2zM813 207h3v1h-3zM828 207h3v1h-3zM860 207h4v1h-4zM431 264h1v1h-1zM721 264h2v1h-2zM17 94h1v1h-1zM301 208h3v1h-3zM811 208h2v1h-2zM831 208h2v1h-2zM852 208h8v1h-8zM488 344h1v1h-1zM660 344h1v1h-1zM517 380h1v1h-1zM629 380h1v1h-1zM251 179h1v1h-1zM915 179h2v1h-2zM440 276h1v1h-1zM708 276h1v1h-1zM534 401h1v1h-1zM603 401h2v1h-2zM493 350h1v1h-1zM655 350h1v1h-1zM490 346h1v1h-1zM658 346h1v1h-1zM415 249h1v1h-1zM748 249h3v1h-3zM553 417h2v1h-2zM568 417h4v1h-4zM212 159h15v1h-15zM422 255h1v1h-1zM739 255h2v1h-2zM451 291h1v1h-1zM695 291h1v1h-1zM72 133h20v1h-20zM125 133h2v1h-2zM185 153h3v1h-3zM176 149h3v1h-3zM23 100h1v1h-1zM61 129h1v1h-1zM108 129h11v1h-11zM248 176h1v1h-1zM920 176h2v1h-2zM311 211h2v1h-2zM803 211h2v1h-2zM839 211h2v1h-2zM844 211h3v1h-3zM168 146h3v1h-3zM308 210h3v1h-3zM805 210h3v1h-3zM836 210h3v1h-3zM847 210h2v1h-2zM24 101h1v1h-1zM200 156h3v1h-3zM304 209h4v1h-4zM808 209h3v1h-3zM833 209h3v1h-3zM849 209h3v1h-3zM364 225h3v1h-3zM784 225h1v1h-1zM421 254h1v1h-1zM741 254h2v1h-2zM471 318h1v1h-1zM675 318h1v1h-1zM56 125h2v1h-2zM171 147h2v1h-2zM513 375h1v1h-1zM634 375h1v1h-1zM49 121h2v1h-2zM546 413h1v1h-1zM580 413h3v1h-3zM181 151h2v1h-2zM273 198h6v1h-6zM879 198h2v1h-2zM429 262h1v1h-1zM725 262h2v1h-2zM394 239h1v1h-1zM767 239h2v1h-2zM528 393h1v1h-1zM614 393h1v1h-1zM285 203h3v1h-3zM871 203h2v1h-2zM469 316h1v1h-1zM676 316h1v1h-1zM500 359h1v1h-1zM647 359h1v1h-1zM173 148h3v1h-3zM324 215h8v1h-8zM795 215h2v1h-2zM470 317h1v1h-1zM676 317h1v1h-1zM483 336h1v1h-1zM665 336h1v1h-1zM473 322h1v1h-1zM673 322h1v1h-1zM538 406h1v1h-1zM595 406h1v1h-1zM53 123h2v1h-2zM164 145h4v1h-4zM473 321h1v1h-1zM674 321h1v1h-1zM391 237h1v1h-1zM771 237h2v1h-2zM432 266h1v1h-1zM718 266h1v1h-1zM188 154h8v1h-8zM257 185h1v1h-1zM900 185h4v1h-4zM523 387h1v1h-1zM622 387h1v1h-1zM487 342h1v1h-1zM661 342h1v1h-1zM516 378h1v1h-1zM631 378h1v1h-1zM444 282h1v1h-1zM703 282h1v1h-1zM536 403h1v1h-1zM599 403h2v1h-2zM203 157h2v1h-2zM450 289h1v1h-1zM696 289h1v1h-1zM529 395h1v1h-1zM611 395h1v1h-1zM430 263h1v1h-1zM723 263h2v1h-2zM520 384h1v1h-1zM625 384h1v1h-1zM353 221h3v1h-3zM787 221h1v1h-1zM498 356h1v1h-1zM650 356h1v1h-1zM527 392h1v1h-1zM615 392h1v1h-1zM250 178h1v1h-1zM917 178h2v1h-2zM451 290h1v1h-1zM696 290h1v1h-1zM456 297h1v1h-1zM690 297h1v1h-1zM68 132h4v1h-4zM92 132h8v1h-8zM123 132h2v1h-2zM477 328h1v1h-1zM670 328h1v1h-1zM316 213h4v1h-4zM799 213h2v1h-2zM454 295h1v1h-1zM692 295h1v1h-1zM156 144h8v1h-8zM418 251h1v1h-1zM745 251h1v1h-1zM205 158h7v1h-7zM343 217h2v1h-2zM790 217h2v1h-2zM441 278h1v1h-1zM706 278h1v1h-1zM240 169h2v1h-2zM423 256h1v1h-1zM737 256h2v1h-2zM139 139h2v1h-2zM271 197h2v1h-2zM881 197h2v1h-2zM549 415h2v1h-2zM575 415h2v1h-2zM397 241h2v1h-2zM763 241h2v1h-2zM345 218h3v1h-3zM789 218h1v1h-1zM292 205h4v1h-4zM867 205h2v1h-2zM439 275h1v1h-1zM709 275h1v1h-1zM446 284h1v1h-1zM701 284h1v1h-1zM132 136h3v1h-3zM509 370h1v1h-1zM637 370h1v1h-1zM482 335h1v1h-1zM666 335h1v1h-1zM258 186h1v1h-1zM897 186h3v1h-3zM469 315h1v1h-1zM677 315h1v1h-1zM30 106h1v1h-1zM283 202h2v1h-2zM873 202h2v1h-2zM64 131h4v1h-4zM100 131h4v1h-4zM121 131h2v1h-2zM540 408h1v1h-1zM591 408h2v1h-2zM401 243h3v1h-3zM759 243h2v1h-2zM143 141h2v1h-2zM148 143h8v1h-8zM135 137h2v1h-2zM288 204h4v1h-4zM869 204h2v1h-2zM267 194h1v1h-1zM886 194h1v1h-1zM280 200h2v1h-2zM876 200h2v1h-2zM555 418h2v1h-2zM564 418h4v1h-4zM249 177h1v1h-1zM919 177h1v1h-1zM279 199h1v1h-1zM878 199h1v1h-1zM34 109h1v1h-1zM395 240h2v1h-2zM765 240h2v1h-2zM44 118h2v1h-2zM127 134h2v1h-2zM542 410h1v1h-1zM587 410h2v1h-2zM497 355h1v1h-1zM651 355h1v1h-1zM62 130h2v1h-2zM104 130h4v1h-4zM119 130h2v1h-2zM282 201h1v1h-1zM875 201h1v1h-1zM389 236h2v1h-2zM773 236h2v1h-2zM504 364h1v1h-1zM642 364h1v1h-1zM432 265h1v1h-1zM719 265h2v1h-2zM356 222h3v1h-3zM786 222h1v1h-1zM252 180h1v1h-1zM913 180h2v1h-2zM129 135h3v1h-3zM453 293h1v1h-1zM693 293h1v1h-1zM11 88h1v1h-1zM436 271h1v1h-1zM713 271h1v1h-1zM145 142h3v1h-3zM467 313h1v1h-1zM678 313h1v1h-1zM425 258h1v1h-1zM733 258h2v1h-2zM256 184h1v1h-1zM904 184h3v1h-3zM359 223h2v1h-2zM785 223h1v1h-1zM399 242h2v1h-2zM761 242h2v1h-2zM41 116h2v1h-2zM464 308h1v1h-1zM682 308h1v1h-1zM254 182h1v1h-1zM909 182h2v1h-2zM361 224h3v1h-3zM785 224h1v1h-1zM460 303h1v1h-1zM685 303h1v1h-1zM413 248h2v1h-2zM751 248h1v1h-1zM468 314h1v1h-1zM677 314h1v1h-1zM420 253h1v1h-1zM743 253h1v1h-1zM416 250h2v1h-2zM746 250h2v1h-2zM409 246h2v1h-2zM754 246h1v1h-1zM141 140h2v1h-2zM18 95h1v1h-1zM407 245h2v1h-2zM755 245h2v1h-2zM439 274h1v1h-1zM710 274h1v1h-1zM442 279h1v1h-1zM705 279h1v1h-1zM19 96h1v1h-1zM266 193h1v1h-1zM887 193h1v1h-1zM236 166h2v1h-2zM519 382h1v1h-1zM627 382h1v1h-1zM443 280h1v1h-1zM704 280h1v1h-1zM520 383h1v1h-1zM626 383h1v1h-1zM383 233h2v1h-2zM778 233h1v1h-1zM544 412h2v1h-2zM583 412h2v1h-2zM499 357h1v1h-1zM649 357h1v1h-1zM404 244h3v1h-3zM757 244h2v1h-2zM424 257h1v1h-1zM735 257h2v1h-2zM392 238h2v1h-2zM769 238h2v1h-2zM37 113h1v1h-1zM474 323h1v1h-1zM673 323h1v1h-1zM255 183h1v1h-1zM907 183h2v1h-2zM457 299h1v1h-1zM688 299h1v1h-1zM26 103h1v1h-1zM483 337h1v1h-1zM665 337h1v1h-1zM528 394h1v1h-1zM612 394h2v1h-2zM28 105h2v1h-2zM530 396h1v1h-1zM610 396h1v1h-1zM471 319h1v1h-1zM675 319h1v1h-1zM508 368h1v1h-1zM639 368h1v1h-1zM313 212h3v1h-3zM801 212h2v1h-2zM841 212h3v1h-3zM533 400h1v1h-1zM605 400h2v1h-2zM320 214h4v1h-4zM797 214h2v1h-2zM472 320h1v1h-1zM674 320h1v1h-1zM491 347h1v1h-1zM657 347h1v1h-1zM539 407h1v1h-1zM593 407h2v1h-2zM551 416h2v1h-2zM572 416h3v1h-3zM475 325h1v1h-1zM672 325h1v1h-1zM479 330h1v1h-1zM669 330h1v1h-1zM512 374h1v1h-1zM635 374h1v1h-1zM262 190h1v1h-1zM891 190h1v1h-1zM518 381h1v1h-1zM628 381h1v1h-1zM385 234h2v1h-2zM776 234h2v1h-2zM36 112h1v1h-1zM377 230h2v1h-2zM780 230h1v1h-1zM246 174h1v1h-1zM924 174h2v1h-2zM387 235h2v1h-2zM775 235h1v1h-1zM379 231h2v1h-2zM780 231h1v1h-1zM514 376h1v1h-1zM633 376h1v1h-1zM369 227h3v1h-3zM783 227h1v1h-1zM547 414h2v1h-2zM577 414h3v1h-3zM375 229h2v1h-2zM781 229h1v1h-1zM229 161h2v1h-2zM196 155h4v1h-4zM464 309h1v1h-1zM681 309h1v1h-1zM461 305h1v1h-1zM684 305h1v1h-1zM25 102h1v1h-1zM501 360h1v1h-1zM646 360h1v1h-1zM381 232h2v1h-2zM779 232h1v1h-1zM372 228h3v1h-3zM782 228h1v1h-1zM541 409h1v1h-1zM589 409h2v1h-2zM526 391h1v1h-1zM616 391h2v1h-2zM243 171h1v1h-1zM467 312h1v1h-1zM679 312h1v1h-1zM59 127h1v1h-1zM524 388h1v1h-1zM620 388h2v1h-2zM232 163h2v1h-2zM503 362h1v1h-1zM644 362h1v1h-1zM367 226h2v1h-2zM783 226h1v1h-1zM536 404h1v1h-1zM598 404h1v1h-1zM489 345h1v1h-1zM659 345h1v1h-1zM488 343h1v1h-1zM660 343h1v1h-1zM441 277h1v1h-1zM707 277h1v1h-1zM511 372h1v1h-1zM636 372h1v1h-1zM435 269h1v1h-1zM715 269h1v1h-1zM227 160h2v1h-2zM253 181h1v1h-1zM911 181h2v1h-2zM445 283h1v1h-1zM702 283h1v1h-1zM35 110h1v1h-1zM426 259h1v1h-1zM731 259h2v1h-2zM496 353h1v1h-1zM652 353h1v1h-1zM459 301h1v1h-1zM687 301h1v1h-1zM36 111h1v1h-1zM55 124h1v1h-1zM47 120h2v1h-2zM58 126h1v1h-1zM268 195h2v1h-2zM884 195h2v1h-2zM447 285h1v1h-1zM700 285h1v1h-1zM500 358h1v1h-1zM648 358h1v1h-1zM532 399h1v1h-1zM607 399h1v1h-1zM259 187h1v1h-1zM895 187h2v1h-2zM543 411h1v1h-1zM585 411h2v1h-2zM179 150h2v1h-2zM264 192h2v1h-2zM888 192h2v1h-2zM51 122h2v1h-2zM485 339h1v1h-1zM663 339h1v1h-1zM6 83h1v1h-1zM419 252h1v1h-1zM744 252h1v1h-1zM183 152h2v1h-2zM348 219h3v1h-3zM788 219h1v1h-1zM492 349h1v1h-1zM656 349h1v1h-1zM521 385h1v1h-1zM624 385h1v1h-1zM428 261h1v1h-1zM727 261h2v1h-2zM239 168h1v1h-1zM522 386h1v1h-1zM623 386h1v1h-1zM455 296h1v1h-1zM691 296h1v1h-1zM532 398h1v1h-1zM608 398h1v1h-1zM242 170h1v1h-1zM459 302h1v1h-1zM686 302h1v1h-1zM510 371h1v1h-1zM637 371h1v1h-1zM433 267h1v1h-1zM717 267h1v1h-1zM31 107h1v1h-1zM481 334h1v1h-1zM667 334h1v1h-1zM448 287h1v1h-1zM698 287h1v1h-1zM434 268h1v1h-1zM716 268h1v1h-1zM32 108h2v1h-2zM463 307h1v1h-1zM683 307h1v1h-1zM43 117h1v1h-1zM444 281h1v1h-1zM704 281h1v1h-1zM46 119h1v1h-1zM524 389h1v1h-1zM619 389h1v1h-1zM12 89h1v1h-1zM351 220h2v1h-2zM788 220h1v1h-1zM39 115h2v1h-2zM537 405h1v1h-1zM596 405h2v1h-2zM502 361h1v1h-1zM645 361h1v1h-1zM137 138h2v1h-2zM427 260h1v1h-1zM729 260h2v1h-2zM13 90h1v1h-1zM247 175h1v1h-1zM922 175h2v1h-2zM494 351h1v1h-1zM654 351h1v1h-1zM477 327h1v1h-1zM671 327h1v1h-1zM235 165h1v1h-1zM20 97h1v1h-1zM238 167h1v1h-1zM263 191h1v1h-1zM890 191h1v1h-1zM411 247h2v1h-2zM752 247h2v1h-2zM462 306h1v1h-1zM683 306h1v1h-1zM486 341h1v1h-1zM662 341h1v1h-1zM38 114h1v1h-1zM458 300h1v1h-1zM688 300h1v1h-1zM270 196h1v1h-1zM883 196h1v1h-1zM27 104h1v1h-1zM531 397h1v1h-1zM609 397h1v1h-1zM60 128h1v1h-1zM452 292h1v1h-1zM694 292h1v1h-1zM476 326h1v1h-1zM671 326h1v1h-1zM234 164h1v1h-1zM480 332h1v1h-1zM668 332h1v1h-1zM260 188h1v1h-1zM894 188h1v1h-1zM512 373h1v1h-1zM635 373h1v1h-1zM516 379h1v1h-1zM630 379h1v1h-1zM244 172h1v1h-1zM479 331h1v1h-1zM668 331h1v1h-1zM461 304h1v1h-1zM685 304h1v1h-1zM245 173h1v1h-1zM475 324h1v1h-1zM672 324h1v1h-1zM478 329h1v1h-1zM669 329h1v1h-1zM508 369h1v1h-1zM638 369h1v1h-1zM505 365h1v1h-1zM641 365h1v1h-1zM7 84h1v1h-1zM456 298h1v1h-1zM689 298h1v1h-1zM437 272h1v1h-1zM712 272h1v1h-1zM8 85h1v1h-1zM14 91h1v1h-1zM495 352h1v1h-1zM653 352h1v1h-1zM449 288h1v1h-1zM697 288h1v1h-1zM15 92h1v1h-1zM465 310h1v1h-1zM680 310h1v1h-1zM453 294h1v1h-1zM692 294h1v1h-1zM525 390h1v1h-1zM618 390h1v1h-1zM22 99h1v1h-1zM504 363h1v1h-1zM643 363h1v1h-1zM515 377h1v1h-1zM632 377h1v1h-1zM21 98h1v1h-1zM492 348h1v1h-1zM656 348h1v1h-1zM507 367h1v1h-1zM640 367h1v1h-1zM481 333h1v1h-1zM667 333h1v1h-1zM438 273h1v1h-1zM711 273h1v1h-1zM496 354h1v1h-1zM652 354h1v1h-1zM448 286h1v1h-1zM699 286h1v1h-1zM10 87h1v1h-1zM506 366h1v1h-1zM640 366h1v1h-1zM9 86h1v1h-1zM231 162h1v1h-1z"/>
</g>
<rect x="6" y="80" width="1162" height="2" fill="#ff0000"/>
<rect x="6" y="170" width="1162" height="2" fill="#00ff00"/>
<rect x="6" y="247" width="1162" height="2" fill="#0000ff"/>
<rect x="6" y="338" width="1162" height="2" fill="#0000ff"/>
<rect x="6" y="446" width="1162" height="2" fill="#0000ff"/>
<g clip-path="url(#cm)">
<path fill="#32cd32" d="M10 139h1v52h-1zM9 141h3v19h-3zM18 144h1v34h-1zM17 149h3v14h-3zM30 112h1v33h-1zM29 112h3v16h-3zM34 128h1v30h-1zM33 128h3v23h-3zM38 145h1v39h-1zM37 150h3v31h-3zM46 131h1v27h-1zM45 133h3v13h-3zM54 128h1v23h-1zM53 130h3v13h-3zM58 135h1v67h-1zM57 142h3v51h-3zM62 180h1v30h-1zM61 192h3v3h-3zM78 121h1v40h-1zM77 136h3v21h-3zM90 90h1v52h-1zM89 110h3v17h-3zM102 90h1v33h-1zM101 90h3v5h-3zM106 90h1v40h-1zM105 90h3v28h-3zM114 90h1v37h-1zM113 90h3v36h-3zM118 120h1v10h-1zM117 125h3v3h-3zM122 121h1v19h-1zM121 133h3v3h-3zM126 127h1v27h-1zM125 133h3v17h-3zM130 142h1v32h-1zM129 149h3v17h-3zM142 153h1v17h-1zM141 156h3v1h-3zM146 162h1v24h-1zM145 165h3v20h-3zM158 140h1v35h-1zM157 146h3v4h-3zM162 148h1v54h-1zM161 149h3v52h-3zM174 182h1v29h-1zM173 197h3v8h-3zM178 197h1v29h-1zM177 204h3v15h-3zM182 219h1v45h-1zM181 219h3v24h-3zM194 143h1v40h-1zM193 144h3v35h-3zM198 159h1v37h-1zM197 178h3v17h-3zM206 170h1v33h-1zM205 191h3v9h-3zM214 161h1v21h-1zM213 165h3v10h-3zM222 165h1v44h-1zM221 175h3v10h-3zM226 166h1v33h-1zM225 184h3v1h-3zM230 175h1v45h-1zM229 185h3v33h-3zM234 213h1v40h-1zM233 218h3v33h-3zM238 247h1v20h-1zM237 250h3v14h-3zM246 249h1v24h-1zM245 253h3v19h-3zM254 252h1v59h-1zM253 259h3v20h-3zM262 243h1v14h-1zM261 244h3v8h-3zM282 193h1v29h-1zM281 198h3v17h-3zM298 184h1v48h-1zM297 191h3v26h-3zM302 203h1v21h-1zM301 216h3v2h-3zM306 217h1v14h-1zM305 217h3v13h-3zM314 206h1v43h-1zM313 217h3v27h-3zM326 189h1v27h-1zM325 197h3v18h-3zM330 199h1v32h-1zM329 214h3v17h-3zM334 229h1v9h-1zM333 230h3v7h-3zM342 191h1v41h-1zM341 223h3v8h-3zM346 214h1v30h-1zM345 230h3v13h-3zM354 222h1v30h-1zM353 231h3v18h-3zM370 179h1v88h-1zM369 215h3v42h-3zM382 245h1v18h-1zM381 251h3v10h-3zM386 253h1v49h-1zM385 256h3v40h-3zM390 285h1v15h-1zM389 295h3v1h-3zM394 286h1v31h-1zM393 295h3v20h-3zM398 313h1v36h-1zM397 314h3v27h-3zM402 329h1v26h-1zM401 341h3v3h-3zM406 341h1v11h-1zM405 343h3v5h-3zM410 331h1v24h-1zM409 346h3v5h-3zM418 329h1v33h-1zM417 330h3v27h-3zM422 345h1v49h-1zM421 356h3v31h-3zM426 386h1v33h-1zM425 387h3v26h-3zM434 416h1v22h-1zM433 417h3v20h-3zM450 383h1v56h-1zM449 409h3v15h-3zM454 418h1v9h-1zM453 423h3v2h-3zM458 413h1v31h-1zM457 421h3v21h-3zM462 438h1v32h-1zM461 441h3v7h-3zM470 409h1v44h-1zM469 434h3v19h-3zM478 432h1v15h-1zM477 442h3v5h-3zM486 434h1v29h-1zM485 437h3v7h-3zM494 411h1v39h-1zM493 424h3v18h-3zM502 433h1v10h-1zM501 435h3v5h-3zM506 433h1v15h-1zM505 440h3v4h-3zM510 442h1v31h-1zM509 443h3v18h-3zM522 415h1v28h-1zM521 422h3v14h-3zM526 434h1v9h-1zM525 435h3v7h-3zM530 427h1v21h-1zM529 439h3v8h-3zM542 419h1v25h-1zM541 429h3v3h-3zM554 397h1v20h-1zM553 403h3v13h-3zM562 383h1v18h-1zM561 383h3v18h-3zM574 275h1v12h-1zM573 277h3v6h-3zM578 255h1v55h-1zM577 273h3v35h-3zM582 292h1v24h-1zM581 307h3v4h-3zM586 310h1v52h-1zM585 310h3v36h-3zM594 321h1v32h-1zM593 322h3v21h-3zM618 271h1v50h-1zM617 291h3v28h-3zM622 315h1v21h-1zM621 318h3v14h-3zM642 223h1v42h-1zM641 233h3v27h-3zM646 256h1v15h-1zM645 259h3v11h-3zM678 119h1v30h-1zM677 135h3v13h-3zM682 144h1v94h-1zM681 147h3v83h-3zM694 211h1v7h-1zM693 212h3v4h-3zM698 208h1v29h-1zM697 217h3v14h-3zM706 201h1v24h-1zM705 212h3v9h-3zM710 202h1v77h-1zM709 220h3v57h-3zM734 224h1v35h-1zM733 226h3v30h-3zM742 218h1v9h-1zM741 220h3v3h-3zM750 208h1v32h-1zM749 216h3v19h-3zM754 227h1v27h-1zM753 234h3v9h-3zM762 234h1v15h-1zM761 240h3v4h-3zM790 89h1v8h-1zM789 89h3v4h-3zM794 100h1v77h-1zM793 100h3v74h-3zM798 171h1v43h-1zM797 172h3v25h-3zM810 155h1v44h-1zM809 179h3v19h-3zM818 188h1v28h-1zM817 197h3v4h-3zM826 187h1v26h-1zM825 190h3v7h-3zM830 186h1v40h-1zM829 197h3v25h-3zM834 219h1v33h-1zM833 221h3v18h-3zM838 236h1v11h-1zM837 238h3v5h-3zM854 146h1v38h-1zM853 167h3v14h-3zM858 171h1v41h-1zM857 181h3v7h-3zM866 161h1v24h-1zM865 165h3v20h-3zM874 154h1v34h-1zM873 174h3v6h-3zM894 91h1v49h-1zM893 104h3v15h-3zM898 101h1v47h-1zM897 118h3v26h-3zM902 115h1v73h-1zM901 143h3v34h-3zM910 170h1v11h-1zM909 171h3v6h-3zM914 171h1v29h-1zM913 179h3v6h-3z"/>
<path fill="#ff0000" d="M6 114h1v33h-1zM5 141h3v6h-3zM14 143h1v34h-1zM13 148h3v12h-3zM22 139h1v26h-1zM21 153h3v11h-3zM26 102h1v64h-1zM25 112h3v51h-3zM42 129h1v64h-1zM41 133h3v48h-3zM50 113h1v36h-1zM49 130h3v16h-3zM66 149h1v47h-1zM65 151h3v44h-3zM70 140h1v18h-1zM69 146h3v5h-3zM74 135h1v29h-1zM73 136h3v13h-3zM82 103h1v63h-1zM81 125h3v31h-3zM86 90h1v47h-1zM85 110h3v16h-3zM94 104h1v26h-1zM93 112h3v15h-3zM98 90h1v41h-1zM97 90h3v28h-3zM110 90h1v40h-1zM109 90h3v28h-3zM134 153h1v24h-1zM133 165h3v2h-3zM138 130h1v36h-1zM137 156h3v10h-3zM150 159h1v41h-1zM149 167h3v18h-3zM154 137h1v34h-1zM153 147h3v21h-3zM166 191h1v16h-1zM165 194h3v6h-3zM170 179h1v34h-1zM169 197h3v2h-3zM186 165h1v80h-1zM185 177h3v66h-3zM190 145h1v35h-1zM189 155h3v23h-3zM202 177h1v31h-1zM201 191h3v4h-3zM210 142h1v74h-1zM209 164h3v37h-3zM218 158h1v36h-1zM217 175h3v7h-3zM242 243h1v33h-1zM241 253h3v7h-3zM250 253h1v26h-1zM249 260h3v12h-3zM258 227h1v58h-1zM257 244h3v35h-3zM266 230h1v32h-1zM265 236h3v2h-3zM270 206h1v41h-1zM269 227h3v10h-3zM274 200h1v39h-1zM273 225h3v3h-3zM278 191h1v39h-1zM277 197h3v29h-3zM286 200h1v16h-1zM285 206h3v9h-3zM290 191h1v23h-1zM289 207h3v6h-3zM294 182h1v31h-1zM293 192h3v16h-3zM310 216h1v9h-1zM309 217h3v3h-3zM318 215h1v30h-1zM317 230h3v13h-3zM322 188h1v44h-1zM321 197h3v34h-3zM338 216h1v21h-1zM337 223h3v12h-3zM350 222h1v38h-1zM349 231h3v11h-3zM358 245h1v7h-1zM357 248h3v1h-3zM362 232h1v31h-1zM361 233h3v9h-3zM366 209h1v50h-1zM365 215h3v19h-3zM374 233h1v29h-1zM373 253h3v4h-3zM378 244h1v19h-1zM377 251h3v3h-3zM414 316h1v39h-1zM413 330h3v20h-3zM430 403h1v11h-1zM429 411h3v3h-3zM438 418h1v22h-1zM437 433h3v4h-3zM442 415h1v40h-1zM441 428h3v6h-3zM446 404h1v27h-1zM445 408h3v21h-3zM466 419h1v34h-1zM465 434h3v14h-3zM474 432h1v31h-1zM473 442h3v11h-3zM482 436h1v17h-1zM481 437h3v4h-3zM490 419h1v37h-1zM489 424h3v20h-3zM498 420h1v28h-1zM497 435h3v6h-3zM514 433h1v28h-1zM513 453h3v8h-3zM518 421h1v42h-1zM517 422h3v32h-3zM534 429h1v21h-1zM533 429h3v18h-3zM538 422h1v28h-1zM537 429h3v1h-3zM546 401h1v39h-1zM545 402h3v31h-3zM550 395h1v9h-1zM549 399h3v4h-3zM558 383h1v34h-1zM557 383h3v33h-3zM566 314h1v91h-1zM565 315h3v86h-3zM570 258h1v64h-1zM569 277h3v39h-3zM590 321h1v27h-1zM589 322h3v24h-3zM598 335h1v9h-1zM597 336h3v7h-3zM602 318h1v28h-1zM601 328h3v14h-3zM606 295h1v34h-1zM605 304h3v25h-3zM610 283h1v32h-1zM609 292h3v12h-3zM614 281h1v30h-1zM613 291h3v2h-3zM626 307h1v22h-1zM625 325h3v2h-3zM630 251h1v88h-1zM629 264h3v62h-3zM634 240h1v44h-1zM633 245h3v21h-3zM638 208h1v65h-1zM637 233h3v13h-3zM650 242h1v32h-1zM649 269h3v2h-3zM654 231h1v45h-1zM653 244h3v26h-3zM658 237h1v47h-1zM657 238h3v6h-3zM662 210h1v42h-1zM661 212h3v26h-3zM666 197h1v25h-1zM665 209h3v4h-3zM670 200h1v14h-1zM669 201h3v9h-3zM674 110h1v88h-1zM673 134h3v61h-3zM686 206h1v31h-1zM685 213h3v17h-3zM690 200h1v26h-1zM689 211h3v3h-3zM702 206h1v27h-1zM701 212h3v19h-3zM714 254h1v31h-1zM713 264h3v13h-3zM718 253h1v12h-1zM717 258h3v6h-3zM722 247h1v24h-1zM721 248h3v15h-3zM726 214h1v41h-1zM725 226h3v23h-3zM730 220h1v23h-1zM729 224h3v2h-3zM738 212h1v44h-1zM737 220h3v36h-3zM746 209h1v27h-1zM745 216h3v1h-3zM758 236h1v19h-1zM757 239h3v4h-3zM766 240h1v7h-1zM765 241h3v3h-3zM770 211h1v33h-1zM769 217h3v26h-3zM774 188h1v32h-1zM773 193h3v26h-3zM778 181h1v24h-1zM777 186h3v8h-3zM782 105h1v93h-1zM781 116h3v71h-3zM786 46h1v73h-1zM785 90h3v28h-3zM802 184h1v27h-1zM801 192h3v5h-3zM806 178h1v33h-1zM805 179h3v14h-3zM814 194h1v8h-1zM813 195h3v3h-3zM822 179h1v39h-1zM821 190h3v11h-3zM842 222h1v17h-1zM841 234h3v4h-3zM846 184h1v57h-1zM845 193h3v42h-3zM850 130h1v66h-1zM849 167h3v26h-3zM862 174h1v18h-1zM861 177h3v11h-3zM870 165h1v39h-1zM869 174h3v11h-3zM878 159h1v38h-1zM877 167h3v13h-3zM882 130h1v58h-1zM881 140h3v28h-3zM886 132h1v16h-1zM885 137h3v4h-3zM890 70h1v62h-1zM889 104h3v25h-3zM906 145h1v42h-1zM905 170h3v7h-3zM918 155h1v52h-1zM917 161h3v24h-3zM922 132h1v42h-1zM921 136h3v25h-3zM926 125h1v15h-1zM925 133h3v3h-3z"/>
</g>
<g style="shape-rendering:auto">
<rect x="1169" y="51" width="2" height="1" fill="#000"/>
<text x="1174.3" y="55" font-size="10" fill="#000" textLength="32.6" lengthAdjust="spacingAndGlyphs" stroke="#000" stroke-width="0.22">1.29360</text>
<rect x="1169" y="84" width="2" height="1" fill="#000"/>
<text x="1174.3" y="88" font-size="10" fill="#000" textLength="32.6" lengthAdjust="spacingAndGlyphs" stroke="#000" stroke-width="0.22">1.28640</text>
<rect x="1169" y="117" width="2" height="1" fill="#000"/>
<text x="1174.3" y="121" font-size="10" fill="#000" textLength="32.6" lengthAdjust="spacingAndGlyphs" stroke="#000" stroke-width="0.22">1.27900</text>
<rect x="1169" y="150" width="2" height="1" fill="#000"/>
<text x="1174.3" y="154" font-size="10" fill="#000" textLength="32.6" lengthAdjust="spacingAndGlyphs" stroke="#000" stroke-width="0.22">1.27180</text>
<rect x="1169" y="183" width="2" height="1" fill="#000"/>
<text x="1174.3" y="187" font-size="10" fill="#000" textLength="32.6" lengthAdjust="spacingAndGlyphs" stroke="#000" stroke-width="0.22">1.26440</text>
<rect x="1169" y="216" width="2" height="1" fill="#000"/>
<text x="1174.3" y="220" font-size="10" fill="#000" textLength="32.6" lengthAdjust="spacingAndGlyphs" stroke="#000" stroke-width="0.22">1.25720</text>
<rect x="1169" y="249" width="2" height="1" fill="#000"/>
<rect x="1169" y="282" width="2" height="1" fill="#000"/>
<text x="1174.3" y="286" font-size="10" fill="#000" textLength="32.6" lengthAdjust="spacingAndGlyphs" stroke="#000" stroke-width="0.22">1.24260</text>
<rect x="1169" y="315" width="2" height="1" fill="#000"/>
<text x="1174.3" y="319" font-size="10" fill="#000" textLength="32.6" lengthAdjust="spacingAndGlyphs" stroke="#000" stroke-width="0.22">1.23520</text>
<rect x="1169" y="348" width="2" height="1" fill="#000"/>
<text x="1174.3" y="352" font-size="10" fill="#000" textLength="32.6" lengthAdjust="spacingAndGlyphs" stroke="#000" stroke-width="0.22">1.22800</text>
<rect x="1169" y="381" width="2" height="1" fill="#000"/>
<text x="1174.3" y="385" font-size="10" fill="#000" textLength="32.6" lengthAdjust="spacingAndGlyphs" stroke="#000" stroke-width="0.22">1.22060</text>
<rect x="1169" y="414" width="2" height="1" fill="#000"/>
<text x="1174.3" y="418" font-size="10" fill="#000" textLength="32.6" lengthAdjust="spacingAndGlyphs" stroke="#000" stroke-width="0.22">1.21340</text>
<rect x="1169" y="447" width="2" height="1" fill="#000"/>
<rect x="1169" y="480" width="2" height="1" fill="#000"/>
<text x="1174.3" y="484" font-size="10" fill="#000" textLength="32.6" lengthAdjust="spacingAndGlyphs" stroke="#000" stroke-width="0.22">1.19880</text>
</g>
<rect x="1170" y="75" width="39" height="11" fill="#ff0000"/>
<text x="1174.3" y="84" font-size="10" fill="#fff" textLength="32.6" lengthAdjust="spacingAndGlyphs" stroke="#fff" stroke-width="0.22" style="shape-rendering:auto">1.28700</text>
<rect x="1170" y="165" width="39" height="11" fill="#00ff00"/>
<text x="1174.3" y="174" font-size="10" fill="#fff" textLength="32.6" lengthAdjust="spacingAndGlyphs" stroke="#fff" stroke-width="0.22" style="shape-rendering:auto">1.26700</text>
<rect x="1170" y="242" width="39" height="11" fill="#0000ff"/>
<text x="1174.3" y="251" font-size="10" fill="#fff" textLength="32.6" lengthAdjust="spacingAndGlyphs" stroke="#fff" stroke-width="0.22" style="shape-rendering:auto">1.25003</text>
<rect x="1170" y="333" width="39" height="11" fill="#0000ff"/>
<text x="1174.3" y="342" font-size="10" fill="#fff" textLength="32.6" lengthAdjust="spacingAndGlyphs" stroke="#fff" stroke-width="0.22" style="shape-rendering:auto">1.23003</text>
<rect x="1170" y="441" width="39" height="11" fill="#0000ff"/>
<text x="1174.3" y="450" font-size="10" fill="#fff" textLength="32.6" lengthAdjust="spacingAndGlyphs" stroke="#fff" stroke-width="0.22" style="shape-rendering:auto">1.20609</text>
<rect x="1170" y="128" width="39" height="11" fill="#000"/>
<text x="1174.3" y="137" font-size="10" fill="#fff" textLength="32.6" lengthAdjust="spacingAndGlyphs" stroke="#fff" stroke-width="0.22">1.27543</text>
<clipPath id="cd"><rect x="6" y="486" width="1162" height="83"/></clipPath>
<g clip-path="url(#cd)">
<path fill="#c0c0c0" d="M5 527h3v16h-3zM9 527h3v17h-3zM13 527h3v17h-3zM17 527h3v17h-3zM21 527h3v17h-3zM25 527h3v14h-3zM29 527h3v13h-3zM33 527h3v13h-3zM37 527h3v14h-3zM41 527h3v13h-3zM45 527h3v12h-3zM49 527h3v11h-3zM53 527h3v10h-3zM57 527h3v12h-3zM61 527h3v14h-3zM65 527h3v14h-3zM69 527h3v12h-3zM73 527h3v11h-3zM77 527h3v9h-3zM81 527h3v6h-3zM85 527h3v4h-3zM89 527h3v3h-3zM93 527h3v1h-3zM97 525h3v2h-3zM101 524h3v3h-3zM105 523h3v4h-3zM109 521h3v6h-3zM113 522h3v5h-3zM117 523h3v4h-3zM121 525h3v2h-3zM125 526h3v1h-3zM129 527h3v2h-3zM133 527h3v4h-3zM137 527h3v4h-3zM141 527h3v6h-3zM145 527h3v8h-3zM149 527h3v8h-3zM153 527h3v7h-3zM157 527h3v7h-3zM161 527h3v9h-3zM165 527h3v11h-3zM169 527h3v12h-3zM173 527h3v13h-3zM177 527h3v15h-3zM181 527h3v18h-3zM185 527h3v16h-3zM189 527h3v13h-3zM193 527h3v12h-3zM197 527h3v11h-3zM201 527h3v11h-3zM205 527h3v11h-3zM209 527h3v9h-3zM213 527h3v7h-3zM217 527h3v6h-3zM221 527h3v6h-3zM225 527h3v6h-3zM229 527h3v8h-3zM233 527h3v11h-3zM237 527h3v15h-3zM241 527h3v16h-3zM245 527h3v19h-3zM249 527h3v20h-3zM253 527h3v21h-3zM257 527h3v20h-3zM261 527h3v20h-3zM265 527h3v16h-3zM269 527h3v16h-3zM273 527h3v14h-3zM277 527h3v11h-3zM281 527h3v9h-3zM285 527h3v7h-3zM289 527h3v5h-3zM293 527h3v3h-3zM297 527h3v3h-3zM301 527h3v2h-3zM305 527h3v3h-3zM309 527h3v3h-3zM313 527h3v4h-3zM317 527h3v4h-3zM321 527h3v3h-3zM325 527h3v2h-3zM329 527h3v2h-3zM333 527h3v4h-3zM337 527h3v3h-3zM341 527h3v3h-3zM345 527h3v4h-3zM349 527h3v5h-3zM353 527h3v6h-3zM357 527h3v6h-3zM361 527h3v6h-3zM365 527h3v5h-3zM369 527h3v6h-3zM373 527h3v6h-3zM377 527h3v6h-3zM381 527h3v8h-3zM385 527h3v10h-3zM389 527h3v12h-3zM393 527h3v15h-3zM397 527h3v19h-3zM401 527h3v21h-3zM405 527h3v24h-3zM409 527h3v25h-3zM413 527h3v25h-3zM417 527h3v26h-3zM421 527h3v29h-3zM425 527h3v31h-3zM429 527h3v34h-3zM433 527h3v36h-3zM437 527h3v38h-3zM441 527h3v39h-3zM445 527h3v38h-3zM449 527h3v37h-3zM453 527h3v36h-3zM457 527h3v36h-3zM461 527h3v35h-3zM465 527h3v35h-3zM469 527h3v34h-3zM473 527h3v33h-3zM477 527h3v32h-3zM481 527h3v30h-3zM485 527h3v29h-3zM489 527h3v27h-3zM493 527h3v26h-3zM497 527h3v24h-3zM501 527h3v23h-3zM505 527h3v22h-3zM509 527h3v21h-3zM513 527h3v21h-3zM517 527h3v18h-3zM521 527h3v17h-3zM525 527h3v16h-3zM529 527h3v15h-3zM533 527h3v14h-3zM537 527h3v12h-3zM541 527h3v11h-3zM545 527h3v8h-3zM549 527h3v6h-3zM553 527h3v4h-3zM557 527h3v2h-3zM561 526h3v1h-3zM565 520h3v7h-3zM569 513h3v14h-3zM573 508h3v19h-3zM577 506h3v21h-3zM581 504h3v23h-3zM585 506h3v21h-3zM589 506h3v21h-3zM593 507h3v20h-3zM597 508h3v19h-3zM601 508h3v19h-3zM605 508h3v19h-3zM609 507h3v20h-3zM613 505h3v22h-3zM617 508h3v19h-3zM621 509h3v18h-3zM625 510h3v17h-3zM629 509h3v18h-3zM633 505h3v22h-3zM637 502h3v25h-3zM641 502h3v25h-3zM645 502h3v25h-3zM649 503h3v24h-3zM653 502h3v25h-3zM657 502h3v25h-3zM661 500h3v27h-3zM665 499h3v28h-3zM669 498h3v29h-3zM673 493h3v34h-3zM677 490h3v37h-3zM681 494h3v33h-3zM685 496h3v31h-3zM689 497h3v30h-3zM693 500h3v27h-3zM697 503h3v24h-3zM701 504h3v23h-3zM705 506h3v21h-3zM709 511h3v16h-3zM713 515h3v12h-3zM717 517h3v10h-3zM721 518h3v9h-3zM725 518h3v9h-3zM729 518h3v9h-3zM733 520h3v7h-3zM737 519h3v8h-3zM741 519h3v8h-3zM745 519h3v8h-3zM749 520h3v7h-3zM753 521h3v6h-3zM757 522h3v5h-3zM761 522h3v5h-3zM765 523h3v4h-3zM769 522h3v5h-3zM773 520h3v7h-3zM777 518h3v9h-3zM781 512h3v15h-3zM785 506h3v21h-3zM789 502h3v25h-3zM793 504h3v23h-3zM797 507h3v20h-3zM801 509h3v18h-3zM805 511h3v16h-3zM809 513h3v14h-3zM813 515h3v12h-3zM817 517h3v10h-3zM821 518h3v9h-3zM825 519h3v8h-3zM829 521h3v6h-3zM833 525h3v2h-3zM837 527h3v1h-3zM841 527h3v3h-3zM845 527h3v2h-3zM849 525h3v2h-3zM853 524h3v3h-3zM857 523h3v4h-3zM861 522h3v5h-3zM865 522h3v5h-3zM869 521h3v6h-3zM873 521h3v6h-3zM877 520h3v7h-3zM881 518h3v9h-3zM885 516h3v11h-3zM889 513h3v14h-3zM893 511h3v16h-3zM897 511h3v16h-3zM901 514h3v13h-3zM905 516h3v11h-3zM909 518h3v9h-3zM913 520h3v7h-3zM917 520h3v7h-3zM921 519h3v8h-3zM925 518h3v9h-3z"/>
<path fill="#ff0000" d="M261 543h3v1h-3zM276 543h4v1h-4zM411 543h2v1h-2zM537 543h3v1h-3zM103 529h2v1h-2zM148 529h4v1h-4zM320 529h24v1h-24zM570 529h1v1h-1zM425 550h2v1h-2zM516 550h4v1h-4zM91 534h2v1h-2zM168 534h4v1h-4zM228 534h12v1h-12zM301 534h2v1h-2zM392 534h3v1h-3zM560 534h3v1h-3zM664 502h4v1h-4zM713 502h2v1h-2zM12 541h8v1h-8zM36 541h12v1h-12zM256 541h3v1h-3zM283 541h2v1h-2zM407 541h2v1h-2zM544 541h3v1h-3zM586 515h1v1h-1zM736 515h3v1h-3zM790 515h1v1h-1zM831 515h2v1h-2zM900 515h20v1h-20zM579 520h1v1h-1zM760 520h4v1h-4zM780 520h3v1h-3zM841 520h2v1h-2zM887 520h2v1h-2zM116 524h20v1h-20zM575 524h1v1h-1zM852 524h4v1h-4zM872 524h4v1h-4zM101 530h2v1h-2zM152 530h4v1h-4zM312 530h8v1h-8zM344 530h20v1h-20zM568 530h2v1h-2zM600 507h4v1h-4zM620 507h4v1h-4zM632 507h8v1h-8zM721 507h2v1h-2zM584 516h2v1h-2zM739 516h2v1h-2zM788 516h2v1h-2zM833 516h2v1h-2zM896 516h4v1h-4zM920 516h6v1h-6zM456 562h4v1h-4zM468 562h8v1h-8zM84 535h7v1h-7zM172 535h4v1h-4zM221 535h7v1h-7zM240 535h4v1h-4zM299 535h2v1h-2zM395 535h2v1h-2zM557 535h3v1h-3zM6 539h2v1h-2zM52 539h12v1h-12zM188 539h24v1h-24zM251 539h2v1h-2zM288 539h3v1h-3zM403 539h2v1h-2zM549 539h2v1h-2zM593 510h2v1h-2zM726 510h1v1h-1zM804 510h4v1h-4zM820 510h3v1h-3zM20 542h16v1h-16zM259 542h2v1h-2zM280 542h3v1h-3zM409 542h2v1h-2zM540 542h4v1h-4zM580 519h2v1h-2zM748 519h12v1h-12zM783 519h2v1h-2zM839 519h2v1h-2zM889 519h2v1h-2zM99 531h2v1h-2zM156 531h4v1h-4zM308 531h4v1h-4zM364 531h12v1h-12zM567 531h1v1h-1zM93 533h3v1h-3zM164 533h4v1h-4zM303 533h2v1h-2zM384 533h8v1h-8zM563 533h2v1h-2zM668 501h4v1h-4zM711 501h2v1h-2zM680 497h12v1h-12zM700 497h4v1h-4zM64 538h12v1h-12zM184 538h4v1h-4zM212 538h4v1h-4zM249 538h2v1h-2zM291 538h2v1h-2zM401 538h2v1h-2zM551 538h2v1h-2zM577 522h1v1h-1zM845 522h3v1h-3zM880 522h4v1h-4zM421 548h2v1h-2zM523 548h2v1h-2zM644 505h12v1h-12zM718 505h1v1h-1zM677 498h3v1h-3zM704 498h3v1h-3zM452 561h4v1h-4zM476 561h8v1h-8zM96 532h3v1h-3zM160 532h4v1h-4zM305 532h3v1h-3zM376 532h8v1h-8zM565 532h2v1h-2zM433 554h2v1h-2zM504 554h3v1h-3zM604 506h16v1h-16zM640 506h4v1h-4zM719 506h2v1h-2zM675 499h2v1h-2zM707 499h2v1h-2zM80 536h4v1h-4zM176 536h4v1h-4zM219 536h2v1h-2zM244 536h3v1h-3zM296 536h3v1h-3zM397 536h2v1h-2zM555 536h2v1h-2zM588 513h2v1h-2zM731 513h2v1h-2zM793 513h3v1h-3zM827 513h2v1h-2zM108 527h3v1h-3zM143 527h2v1h-2zM572 527h1v1h-1zM111 526h2v1h-2zM140 526h3v1h-3zM573 526h1v1h-1zM113 525h3v1h-3zM136 525h4v1h-4zM574 525h1v1h-1zM856 525h16v1h-16zM264 544h12v1h-12zM413 544h2v1h-2zM535 544h2v1h-2zM448 560h4v1h-4zM484 560h4v1h-4zM8 540h4v1h-4zM48 540h4v1h-4zM253 540h3v1h-3zM285 540h3v1h-3zM405 540h2v1h-2zM547 540h2v1h-2zM591 511h2v1h-2zM727 511h2v1h-2zM800 511h4v1h-4zM823 511h2v1h-2zM672 500h3v1h-3zM709 500h2v1h-2zM76 537h4v1h-4zM180 537h4v1h-4zM216 537h3v1h-3zM247 537h2v1h-2zM293 537h3v1h-3zM399 537h2v1h-2zM553 537h2v1h-2zM435 555h2v1h-2zM500 555h4v1h-4zM595 509h2v1h-2zM724 509h2v1h-2zM808 509h12v1h-12zM692 496h8v1h-8zM460 563h8v1h-8zM578 521h1v1h-1zM764 521h16v1h-16zM843 521h2v1h-2zM884 521h3v1h-3zM417 546h2v1h-2zM528 546h4v1h-4zM431 553h2v1h-2zM507 553h2v1h-2zM660 503h4v1h-4zM715 503h1v1h-1zM582 518h1v1h-1zM744 518h4v1h-4zM785 518h2v1h-2zM837 518h2v1h-2zM891 518h2v1h-2zM444 559h4v1h-4zM488 559h4v1h-4zM597 508h3v1h-3zM624 508h8v1h-8zM723 508h1v1h-1zM423 549h2v1h-2zM520 549h3v1h-3zM583 517h1v1h-1zM741 517h3v1h-3zM787 517h1v1h-1zM835 517h2v1h-2zM893 517h3v1h-3zM590 512h1v1h-1zM729 512h2v1h-2zM796 512h4v1h-4zM825 512h2v1h-2zM439 557h2v1h-2zM495 557h2v1h-2zM576 523h1v1h-1zM848 523h4v1h-4zM876 523h4v1h-4zM105 528h3v1h-3zM145 528h3v1h-3zM571 528h1v1h-1zM427 551h2v1h-2zM512 551h4v1h-4zM419 547h2v1h-2zM525 547h3v1h-3zM441 558h3v1h-3zM492 558h3v1h-3zM587 514h1v1h-1zM733 514h3v1h-3zM791 514h2v1h-2zM829 514h2v1h-2zM437 556h2v1h-2zM497 556h3v1h-3zM429 552h2v1h-2zM509 552h3v1h-3zM656 504h4v1h-4zM716 504h2v1h-2zM415 545h2v1h-2zM532 545h3v1h-3z"/>
</g>
<rect x="1169" y="487" width="2" height="1" fill="#000"/>
<text x="1172.3" y="496" font-size="10" fill="#000" textLength="33" lengthAdjust="spacingAndGlyphs" stroke="#000" stroke-width="0.22">0.01135</text>
<rect x="1169" y="527" width="2" height="1" fill="#000"/>
<text x="1172.3" y="531" font-size="10" fill="#000" textLength="18" lengthAdjust="spacingAndGlyphs" stroke="#000" stroke-width="0.22">0.00</text>
<rect x="1169" y="567" width="2" height="1" fill="#000"/>
<text x="1173" y="567" font-size="10" fill="#000" textLength="36" lengthAdjust="spacingAndGlyphs" stroke="#000" stroke-width="0.22">-0.01190</text>
<text x="9.8" y="498" font-size="10" fill="#000" textLength="148" lengthAdjust="spacingAndGlyphs" stroke="#000" stroke-width="0.22">MACD(12,26,9) 0.002537 0.002953</text>
<path d="M7 598.5H1168" stroke="#c0c0c0" stroke-width="1" stroke-dasharray="3 3" fill="none"/>
<path d="M7 632.5H1168" stroke="#c0c0c0" stroke-width="1" stroke-dasharray="3 3" fill="none"/>
<clipPath id="cr"><rect x="6" y="572" width="1162" height="86"/></clipPath>
<g clip-path="url(#cr)">
<path fill="#1e90ff" d="M398 634h10v1h-10zM411 634h1v1h-1zM420 634h1v1h-1zM444 634h1v1h-1zM455 634h2v1h-2zM464 634h1v1h-1zM469 634h2v1h-2zM26 615h2v1h-2zM72 615h3v1h-3zM80 615h1v1h-1zM114 615h5v1h-5zM188 615h1v1h-1zM192 615h1v1h-1zM209 615h1v1h-1zM212 615h7v1h-7zM275 615h1v1h-1zM282 615h1v1h-1zM297 615h1v1h-1zM320 615h1v1h-1zM326 615h1v1h-1zM364 615h1v1h-1zM367 615h1v1h-1zM543 615h1v1h-1zM708 615h1v1h-1zM720 615h3v1h-3zM733 615h1v1h-1zM735 615h1v1h-1zM752 615h15v1h-15zM810 615h2v1h-2zM816 615h3v1h-3zM827 615h1v1h-1zM844 615h1v1h-1zM902 615h2v1h-2zM908 615h3v1h-3zM916 615h1v1h-1zM23 620h1v1h-1zM32 620h2v1h-2zM41 620h1v1h-1zM55 620h1v1h-1zM64 620h1v1h-1zM127 620h1v1h-1zM137 620h6v1h-6zM150 620h1v1h-1zM160 620h1v1h-1zM185 620h1v1h-1zM228 620h1v1h-1zM264 620h2v1h-2zM313 620h1v1h-1zM315 620h1v1h-1zM346 620h1v1h-1zM353 620h1v1h-1zM356 620h3v1h-3zM370 620h1v1h-1zM372 620h7v1h-7zM517 620h1v1h-1zM522 620h1v1h-1zM532 620h1v1h-1zM831 620h2v1h-2zM840 620h2v1h-2zM24 618h1v1h-1zM30 618h1v1h-1zM42 618h1v1h-1zM44 618h3v1h-3zM53 618h2v1h-2zM65 618h1v1h-1zM78 618h1v1h-1zM123 618h2v1h-2zM152 618h2v1h-2zM159 618h1v1h-1zM186 618h1v1h-1zM195 618h2v1h-2zM207 618h1v1h-1zM227 618h1v1h-1zM267 618h2v1h-2zM305 618h2v1h-2zM312 618h1v1h-1zM318 618h1v1h-1zM330 618h2v1h-2zM335 618h1v1h-1zM343 618h1v1h-1zM348 618h2v1h-2zM351 618h1v1h-1zM360 618h2v1h-2zM369 618h1v1h-1zM518 618h2v1h-2zM534 618h6v1h-6zM710 618h3v1h-3zM829 618h1v1h-1zM843 618h1v1h-1zM84 611h3v1h-3zM93 611h2v1h-2zM104 611h1v1h-1zM108 611h2v1h-2zM111 611h1v1h-1zM278 611h1v1h-1zM292 611h2v1h-2zM295 611h1v1h-1zM322 611h1v1h-1zM545 611h1v1h-1zM551 611h1v1h-1zM556 611h1v1h-1zM561 611h2v1h-2zM620 611h2v1h-2zM623 611h2v1h-2zM682 611h1v1h-1zM696 611h2v1h-2zM699 611h1v1h-1zM705 611h2v1h-2zM726 611h5v1h-5zM738 611h6v1h-6zM747 611h1v1h-1zM769 611h1v1h-1zM795 611h1v1h-1zM847 611h1v1h-1zM854 611h2v1h-2zM860 611h4v1h-4zM867 611h2v1h-2zM872 611h3v1h-3zM899 611h1v1h-1zM919 611h1v1h-1zM26 614h1v1h-1zM81 614h1v1h-1zM113 614h1v1h-1zM189 614h1v1h-1zM191 614h1v1h-1zM210 614h2v1h-2zM276 614h1v1h-1zM281 614h1v1h-1zM283 614h2v1h-2zM297 614h1v1h-1zM320 614h1v1h-1zM325 614h1v1h-1zM365 614h1v1h-1zM367 614h1v1h-1zM544 614h1v1h-1zM554 614h1v1h-1zM708 614h1v1h-1zM723 614h1v1h-1zM732 614h1v1h-1zM736 614h1v1h-1zM750 614h2v1h-2zM767 614h1v1h-1zM798 614h2v1h-2zM808 614h2v1h-2zM812 614h4v1h-4zM819 614h2v1h-2zM824 614h3v1h-3zM845 614h1v1h-1zM901 614h1v1h-1zM904 614h4v1h-4zM916 614h1v1h-1zM25 617h1v1h-1zM29 617h1v1h-1zM42 617h2v1h-2zM47 617h2v1h-2zM51 617h2v1h-2zM66 617h2v1h-2zM76 617h2v1h-2zM79 617h1v1h-1zM121 617h2v1h-2zM154 617h2v1h-2zM159 617h1v1h-1zM186 617h1v1h-1zM194 617h1v1h-1zM208 617h1v1h-1zM221 617h6v1h-6zM269 617h6v1h-6zM303 617h2v1h-2zM307 617h2v1h-2zM311 617h1v1h-1zM319 617h1v1h-1zM328 617h2v1h-2zM336 617h2v1h-2zM340 617h3v1h-3zM350 617h1v1h-1zM362 617h1v1h-1zM368 617h1v1h-1zM518 617h1v1h-1zM540 617h3v1h-3zM709 617h1v1h-1zM713 617h3v1h-3zM828 617h1v1h-1zM843 617h1v1h-1zM913 617h2v1h-2zM6 624h1v1h-1zM14 624h1v1h-1zM20 624h2v1h-2zM37 624h1v1h-1zM39 624h1v1h-1zM58 624h5v1h-5zM145 624h1v1h-1zM147 624h1v1h-1zM162 624h10v1h-10zM184 624h1v1h-1zM231 624h1v1h-1zM256 624h1v1h-1zM384 624h1v1h-1zM489 624h1v1h-1zM491 624h1v1h-1zM515 624h1v1h-1zM8 626h2v1h-2zM11 626h1v1h-1zM17 626h2v1h-2zM175 626h2v1h-2zM183 626h1v1h-1zM232 626h1v1h-1zM250 626h1v1h-1zM255 626h1v1h-1zM385 626h1v1h-1zM488 626h1v1h-1zM494 626h2v1h-2zM504 626h3v1h-3zM514 626h1v1h-1zM568 597h1v1h-1zM575 597h1v1h-1zM671 597h1v1h-1zM679 597h1v1h-1zM782 597h1v1h-1zM790 597h1v1h-1zM81 613h1v1h-1zM89 613h2v1h-2zM106 613h1v1h-1zM112 613h1v1h-1zM190 613h1v1h-1zM277 613h1v1h-1zM280 613h1v1h-1zM285 613h6v1h-6zM296 613h1v1h-1zM321 613h1v1h-1zM324 613h1v1h-1zM366 613h1v1h-1zM544 613h1v1h-1zM553 613h1v1h-1zM555 613h1v1h-1zM707 613h1v1h-1zM724 613h1v1h-1zM732 613h1v1h-1zM736 613h1v1h-1zM749 613h1v1h-1zM768 613h1v1h-1zM797 613h1v1h-1zM800 613h4v1h-4zM807 613h1v1h-1zM821 613h3v1h-3zM845 613h1v1h-1zM901 613h1v1h-1zM917 613h1v1h-1zM564 605h1v1h-1zM583 605h1v1h-1zM606 605h1v1h-1zM615 605h1v1h-1zM629 605h1v1h-1zM643 605h1v1h-1zM652 605h1v1h-1zM681 605h1v1h-1zM775 605h2v1h-2zM793 605h1v1h-1zM881 605h1v1h-1zM895 605h1v1h-1zM24 619h1v1h-1zM31 619h1v1h-1zM41 619h1v1h-1zM55 619h1v1h-1zM65 619h1v1h-1zM125 619h2v1h-2zM151 619h1v1h-1zM160 619h1v1h-1zM185 619h1v1h-1zM197 619h10v1h-10zM227 619h1v1h-1zM266 619h1v1h-1zM312 619h1v1h-1zM316 619h2v1h-2zM332 619h3v1h-3zM344 619h2v1h-2zM347 619h1v1h-1zM352 619h1v1h-1zM359 619h1v1h-1zM369 619h1v1h-1zM517 619h1v1h-1zM520 619h2v1h-2zM533 619h1v1h-1zM710 619h1v1h-1zM830 619h1v1h-1zM842 619h1v1h-1zM7 625h1v1h-1zM12 625h2v1h-2zM15 625h2v1h-2zM19 625h1v1h-1zM38 625h1v1h-1zM146 625h1v1h-1zM172 625h3v1h-3zM184 625h1v1h-1zM232 625h1v1h-1zM256 625h1v1h-1zM384 625h1v1h-1zM489 625h1v1h-1zM492 625h2v1h-2zM496 625h8v1h-8zM515 625h1v1h-1zM565 602h1v1h-1zM578 602h2v1h-2zM630 602h1v1h-1zM640 602h1v1h-1zM656 602h3v1h-3zM680 602h1v1h-1zM779 602h1v1h-1zM792 602h1v1h-1zM888 602h1v1h-1zM893 602h1v1h-1zM565 601h1v1h-1zM577 601h1v1h-1zM631 601h2v1h-2zM640 601h1v1h-1zM659 601h1v1h-1zM680 601h1v1h-1zM780 601h1v1h-1zM791 601h1v1h-1zM888 601h1v1h-1zM892 601h1v1h-1zM397 633h1v1h-1zM411 633h1v1h-1zM419 633h1v1h-1zM445 633h1v1h-1zM449 633h6v1h-6zM465 633h1v1h-1zM467 633h2v1h-2zM471 633h1v1h-1zM566 600h1v1h-1zM577 600h1v1h-1zM633 600h3v1h-3zM639 600h1v1h-1zM660 600h2v1h-2zM679 600h1v1h-1zM780 600h1v1h-1zM791 600h1v1h-1zM889 600h1v1h-1zM891 600h1v1h-1zM180 629h1v1h-1zM183 629h1v1h-1zM245 629h2v1h-2zM392 629h2v1h-2zM413 629h1v1h-1zM415 629h1v1h-1zM480 629h2v1h-2zM484 629h3v1h-3zM509 629h1v1h-1zM511 629h1v1h-1zM25 616h1v1h-1zM28 616h1v1h-1zM49 616h2v1h-2zM68 616h4v1h-4zM75 616h1v1h-1zM79 616h1v1h-1zM119 616h2v1h-2zM156 616h3v1h-3zM187 616h1v1h-1zM193 616h1v1h-1zM208 616h1v1h-1zM219 616h2v1h-2zM275 616h1v1h-1zM298 616h5v1h-5zM309 616h2v1h-2zM319 616h1v1h-1zM327 616h1v1h-1zM338 616h2v1h-2zM363 616h1v1h-1zM368 616h1v1h-1zM543 616h1v1h-1zM709 616h1v1h-1zM716 616h4v1h-4zM734 616h1v1h-1zM828 616h1v1h-1zM844 616h1v1h-1zM911 616h2v1h-2zM915 616h1v1h-1zM557 608h1v1h-1zM559 608h1v1h-1zM563 608h1v1h-1zM585 608h1v1h-1zM588 608h2v1h-2zM591 608h1v1h-1zM600 608h3v1h-3zM617 608h1v1h-1zM627 608h1v1h-1zM681 608h1v1h-1zM688 608h4v1h-4zM772 608h1v1h-1zM793 608h1v1h-1zM850 608h1v1h-1zM879 608h1v1h-1zM897 608h1v1h-1zM922 608h4v1h-4zM564 604h1v1h-1zM583 604h1v1h-1zM607 604h2v1h-2zM615 604h1v1h-1zM629 604h1v1h-1zM642 604h1v1h-1zM653 604h1v1h-1zM680 604h1v1h-1zM777 604h2v1h-2zM792 604h1v1h-1zM882 604h5v1h-5zM895 604h1v1h-1zM558 607h1v1h-1zM564 607h1v1h-1zM584 607h1v1h-1zM590 607h1v1h-1zM603 607h1v1h-1zM617 607h1v1h-1zM628 607h1v1h-1zM646 607h5v1h-5zM681 607h1v1h-1zM773 607h1v1h-1zM793 607h1v1h-1zM880 607h1v1h-1zM897 607h1v1h-1zM95 610h2v1h-2zM103 610h1v1h-1zM110 610h1v1h-1zM294 610h1v1h-1zM546 610h5v1h-5zM556 610h1v1h-1zM560 610h1v1h-1zM563 610h1v1h-1zM586 610h1v1h-1zM594 610h2v1h-2zM619 610h1v1h-1zM625 610h2v1h-2zM682 610h3v1h-3zM695 610h1v1h-1zM700 610h2v1h-2zM703 610h2v1h-2zM744 610h3v1h-3zM770 610h1v1h-1zM794 610h1v1h-1zM848 610h1v1h-1zM852 610h2v1h-2zM869 610h3v1h-3zM875 610h2v1h-2zM899 610h1v1h-1zM920 610h1v1h-1zM431 639h2v1h-2zM436 639h3v1h-3zM82 612h2v1h-2zM87 612h2v1h-2zM91 612h2v1h-2zM105 612h1v1h-1zM107 612h1v1h-1zM112 612h1v1h-1zM277 612h1v1h-1zM279 612h1v1h-1zM291 612h1v1h-1zM295 612h1v1h-1zM321 612h1v1h-1zM323 612h1v1h-1zM545 612h1v1h-1zM552 612h1v1h-1zM555 612h1v1h-1zM562 612h1v1h-1zM622 612h1v1h-1zM698 612h1v1h-1zM707 612h1v1h-1zM725 612h1v1h-1zM731 612h1v1h-1zM737 612h1v1h-1zM748 612h1v1h-1zM768 612h1v1h-1zM796 612h1v1h-1zM804 612h3v1h-3zM846 612h1v1h-1zM856 612h4v1h-4zM864 612h3v1h-3zM900 612h1v1h-1zM918 612h1v1h-1zM564 606h1v1h-1zM584 606h1v1h-1zM604 606h2v1h-2zM616 606h1v1h-1zM628 606h1v1h-1zM644 606h2v1h-2zM651 606h1v1h-1zM681 606h1v1h-1zM774 606h1v1h-1zM793 606h1v1h-1zM880 606h1v1h-1zM896 606h1v1h-1zM97 609h6v1h-6zM557 609h1v1h-1zM560 609h1v1h-1zM563 609h1v1h-1zM585 609h1v1h-1zM587 609h1v1h-1zM592 609h2v1h-2zM596 609h4v1h-4zM618 609h1v1h-1zM627 609h1v1h-1zM682 609h1v1h-1zM685 609h3v1h-3zM692 609h3v1h-3zM702 609h1v1h-1zM771 609h1v1h-1zM794 609h1v1h-1zM849 609h1v1h-1zM851 609h1v1h-1zM877 609h2v1h-2zM898 609h1v1h-1zM921 609h1v1h-1zM570 595h2v1h-2zM672 595h1v1h-1zM678 595h1v1h-1zM783 595h2v1h-2zM787 595h2v1h-2zM23 621h1v1h-1zM34 621h1v1h-1zM40 621h1v1h-1zM56 621h1v1h-1zM64 621h1v1h-1zM128 621h2v1h-2zM135 621h2v1h-2zM143 621h1v1h-1zM149 621h1v1h-1zM161 621h1v1h-1zM185 621h1v1h-1zM229 621h1v1h-1zM258 621h2v1h-2zM263 621h1v1h-1zM314 621h1v1h-1zM354 621h2v1h-2zM370 621h2v1h-2zM379 621h2v1h-2zM516 621h1v1h-1zM523 621h2v1h-2zM532 621h1v1h-1zM833 621h3v1h-3zM839 621h1v1h-1zM22 622h1v1h-1zM35 622h1v1h-1zM40 622h1v1h-1zM57 622h1v1h-1zM63 622h1v1h-1zM130 622h5v1h-5zM144 622h1v1h-1zM148 622h1v1h-1zM161 622h1v1h-1zM185 622h1v1h-1zM229 622h1v1h-1zM257 622h1v1h-1zM260 622h3v1h-3zM381 622h2v1h-2zM516 622h1v1h-1zM525 622h3v1h-3zM531 622h1v1h-1zM836 622h3v1h-3zM179 628h1v1h-1zM183 628h1v1h-1zM234 628h6v1h-6zM243 628h2v1h-2zM247 628h1v1h-1zM253 628h2v1h-2zM391 628h1v1h-1zM414 628h1v1h-1zM482 628h2v1h-2zM487 628h1v1h-1zM508 628h1v1h-1zM512 628h2v1h-2zM425 638h6v1h-6zM439 638h2v1h-2zM22 623h1v1h-1zM36 623h1v1h-1zM39 623h1v1h-1zM57 623h1v1h-1zM63 623h1v1h-1zM144 623h1v1h-1zM148 623h1v1h-1zM162 623h1v1h-1zM184 623h1v1h-1zM230 623h1v1h-1zM257 623h1v1h-1zM383 623h1v1h-1zM490 623h1v1h-1zM516 623h1v1h-1zM528 623h3v1h-3zM408 635h3v1h-3zM421 635h1v1h-1zM443 635h1v1h-1zM457 635h3v1h-3zM463 635h1v1h-1zM567 598h1v1h-1zM575 598h1v1h-1zM668 598h3v1h-3zM679 598h1v1h-1zM781 598h1v1h-1zM791 598h1v1h-1zM422 636h1v1h-1zM443 636h1v1h-1zM460 636h3v1h-3zM566 599h1v1h-1zM576 599h1v1h-1zM636 599h3v1h-3zM662 599h6v1h-6zM679 599h1v1h-1zM781 599h1v1h-1zM791 599h1v1h-1zM890 599h1v1h-1zM565 603h1v1h-1zM580 603h3v1h-3zM609 603h6v1h-6zM630 603h1v1h-1zM641 603h1v1h-1zM654 603h2v1h-2zM680 603h1v1h-1zM779 603h1v1h-1zM792 603h1v1h-1zM887 603h1v1h-1zM894 603h1v1h-1zM10 627h1v1h-1zM177 627h2v1h-2zM183 627h1v1h-1zM233 627h1v1h-1zM240 627h3v1h-3zM248 627h2v1h-2zM251 627h2v1h-2zM255 627h1v1h-1zM386 627h5v1h-5zM487 627h1v1h-1zM507 627h1v1h-1zM514 627h1v1h-1zM673 594h1v1h-1zM676 594h2v1h-2zM785 594h2v1h-2zM182 631h1v1h-1zM395 631h1v1h-1zM412 631h1v1h-1zM417 631h1v1h-1zM446 631h1v1h-1zM474 631h5v1h-5zM433 640h3v1h-3zM181 630h2v1h-2zM394 630h1v1h-1zM413 630h1v1h-1zM416 630h1v1h-1zM479 630h1v1h-1zM510 630h1v1h-1zM396 632h1v1h-1zM412 632h1v1h-1zM418 632h1v1h-1zM445 632h1v1h-1zM447 632h2v1h-2zM466 632h1v1h-1zM472 632h2v1h-2zM673 593h1v1h-1zM675 593h1v1h-1zM569 596h1v1h-1zM572 596h3v1h-3zM671 596h1v1h-1zM678 596h1v1h-1zM782 596h1v1h-1zM789 596h2v1h-2zM423 637h2v1h-2zM441 637h2v1h-2zM674 592h1v1h-1z"/>
</g>
<rect x="1169" y="573" width="2" height="1" fill="#000"/>
<text x="1172.3" y="582" font-size="10" fill="#000" textLength="15.0" lengthAdjust="spacingAndGlyphs" stroke="#000" stroke-width="0.22">100</text>
<rect x="1169" y="598" width="2" height="1" fill="#000"/>
<text x="1172.3" y="602" font-size="10" fill="#000" textLength="10.0" lengthAdjust="spacingAndGlyphs" stroke="#000" stroke-width="0.22">70</text>
<rect x="1169" y="632" width="2" height="1" fill="#000"/>
<text x="1172.3" y="636" font-size="10" fill="#000" textLength="10.0" lengthAdjust="spacingAndGlyphs" stroke="#000" stroke-width="0.22">30</text>
<rect x="1169" y="657" width="2" height="1" fill="#000"/>
<text x="1172.3" y="654" font-size="10" fill="#000" textLength="5.0" lengthAdjust="spacingAndGlyphs" stroke="#000" stroke-width="0.22">0</text>
<text x="9.9" y="584" font-size="10" fill="#000" textLength="68" lengthAdjust="spacingAndGlyphs" stroke="#000" stroke-width="0.22">RSI(14) 58.5634</text>
<rect x="6" y="659" width="1" height="3" fill="#000"/>
<text x="5" y="671" font-size="10" fill="#000" textLength="44.5" lengthAdjust="spacingAndGlyphs" stroke="#000" stroke-width="0.22">5 Jan 2021</text>
<rect x="70" y="659" width="1" height="3" fill="#000"/>
<text x="69" y="671" font-size="10" fill="#000" textLength="49.5" lengthAdjust="spacingAndGlyphs" stroke="#000" stroke-width="0.22">23 Jan 2021</text>
<rect x="134" y="659" width="1" height="3" fill="#000"/>
<text x="133" y="671" font-size="10" fill="#000" textLength="49.9" lengthAdjust="spacingAndGlyphs" stroke="#000" stroke-width="0.22">11 Feb 2021</text>
<rect x="198" y="659" width="1" height="3" fill="#000"/>
<text x="197" y="671" font-size="10" fill="#000" textLength="45.5" lengthAdjust="spacingAndGlyphs" stroke="#000" stroke-width="0.22">2 Mar 2021</text>
<rect x="262" y="659" width="1" height="3" fill="#000"/>
<text x="261" y="671" font-size="10" fill="#000" textLength="50.5" lengthAdjust="spacingAndGlyphs" stroke="#000" stroke-width="0.22">20 Mar 2021</text>
<rect x="326" y="659" width="1" height="3" fill="#000"/>
<text x="325" y="671" font-size="10" fill="#000" textLength="43.5" lengthAdjust="spacingAndGlyphs" stroke="#000" stroke-width="0.22">8 Apr 2021</text>
<rect x="390" y="659" width="1" height="3" fill="#000"/>
<text x="389" y="671" font-size="10" fill="#000" textLength="48.5" lengthAdjust="spacingAndGlyphs" stroke="#000" stroke-width="0.22">27 Apr 2021</text>
<rect x="454" y="659" width="1" height="3" fill="#000"/>
<text x="453" y="671" font-size="10" fill="#000" textLength="52.0" lengthAdjust="spacingAndGlyphs" stroke="#000" stroke-width="0.22">15 May 2021</text>
<rect x="518" y="659" width="1" height="3" fill="#000"/>
<text x="517" y="671" font-size="10" fill="#000" textLength="44.5" lengthAdjust="spacingAndGlyphs" stroke="#000" stroke-width="0.22">3 Jun 2021</text>
<rect x="582" y="659" width="1" height="3" fill="#000"/>
<text x="581" y="671" font-size="10" fill="#000" textLength="49.5" lengthAdjust="spacingAndGlyphs" stroke="#000" stroke-width="0.22">22 Jun 2021</text>
<rect x="646" y="659" width="1" height="3" fill="#000"/>
<text x="645" y="671" font-size="10" fill="#000" textLength="46.5" lengthAdjust="spacingAndGlyphs" stroke="#000" stroke-width="0.22">10 Jul 2021</text>
<rect x="710" y="659" width="1" height="3" fill="#000"/>
<text x="709" y="671" font-size="10" fill="#000" textLength="46.5" lengthAdjust="spacingAndGlyphs" stroke="#000" stroke-width="0.22">29 Jul 2021</text>
<rect x="774" y="659" width="1" height="3" fill="#000"/>
<text x="773" y="671" font-size="10" fill="#000" textLength="50.6" lengthAdjust="spacingAndGlyphs" stroke="#000" stroke-width="0.22">17 Aug 2021</text>
<rect x="838" y="659" width="1" height="3" fill="#000"/>
<text x="837" y="671" font-size="10" fill="#000" textLength="46.0" lengthAdjust="spacingAndGlyphs" stroke="#000" stroke-width="0.22">4 Sep 2021</text>
<rect x="902" y="659" width="1" height="3" fill="#000"/>
<text x="901" y="671" font-size="10" fill="#000" textLength="51.0" lengthAdjust="spacingAndGlyphs" stroke="#000" stroke-width="0.22">23 Sep 2021</text>
</g>
<g id="one-click-trading" aria-label="One click trading panel">
<rect x="7" y="37" width="223" height="65" fill="#fff"/>
<rect x="6" y="80" width="1" height="1" fill="#fff"/>
<path d="M8.8 34.5h7.2l-3.6-4.6z" fill="#000" style="shape-rendering:auto"/>
<text x="21.3" y="34.8" font-size="10" fill="#000" textLength="65.8" lengthAdjust="spacingAndGlyphs" stroke="#000" stroke-width="0.22">USDCAD,Daily</text>
<text x="93" y="34.8" font-size="10" fill="#000" textLength="141" lengthAdjust="spacingAndGlyphs" stroke="#000" stroke-width="0.22">1.27493 1.27733 1.27414 1.27543</text>
<defs>
<linearGradient id="gr" gradientUnits="userSpaceOnUse" x1="0" y1="43" x2="0" y2="100"><stop offset="0" stop-color="#f85252"/><stop offset="0.42" stop-color="#de2b2b"/><stop offset="1" stop-color="#ad0202"/></linearGradient>
<linearGradient id="gb" x1="0" y1="0" x2="0" y2="1"><stop offset="0" stop-color="#f4f4f4"/><stop offset="0.5" stop-color="#dcdcdc"/><stop offset="0.5" stop-color="#cfcfcf"/><stop offset="1" stop-color="#dedede"/></linearGradient>
</defs>
<path d="M9 43H61V67H118V100H9Z" fill="url(#gr)"/>
<path d="M176 43H228V100H120V67H176Z" fill="url(#gr)"/>
<path d="M9.5 43.5H60.5V67.5H117.5V99.5H9.5Z M176.5 43.5H227.5V99.5H120.5V67.5H176.5Z" fill="none" stroke="#b40000" stroke-width="1"/>
<rect x="13" y="66" width="44" height="1" fill="#8a0000"/>
<rect x="180" y="66" width="44" height="1" fill="#8a0000"/>
<rect x="13" y="67" width="44" height="1" fill="#ff6a6a"/>
<rect x="180" y="67" width="44" height="1" fill="#ff6a6a"/>
<rect x="63" y="43" width="110" height="21" fill="#fff" stroke="#acacb4" stroke-width="1" transform="translate(0.5,0.5)"/>
<rect x="65" y="45" width="18" height="18" fill="url(#gb)"/>
<rect x="84" y="44" width="1" height="20" fill="#acacb4"/>
<rect x="154" y="45" width="18" height="18" fill="url(#gb)"/>
<rect x="152" y="44" width="1" height="20" fill="#acacb4"/>
<path d="M71.5 51.6h5l-2.5 2.8z" fill="#5263b8" style="shape-rendering:auto"/>
<path d="M160.5 54.4h5l-2.5-2.8z" fill="#5263b8" style="shape-rendering:auto"/>
<g style="shape-rendering:auto">
<text x="149" y="57.8" font-size="12.8" fill="#000" textLength="23.8" lengthAdjust="spacingAndGlyphs" text-anchor="end">3.00</text>
<text x="34" y="58.8" font-size="12.5" fill="#fff" textLength="26.2" lengthAdjust="spacingAndGlyphs" text-anchor="middle">SELL</text>
<text x="201.2" y="58.8" font-size="12.5" fill="#fff" textLength="24" lengthAdjust="spacingAndGlyphs" text-anchor="middle">BUY</text>
<text x="29.3" y="93.8" font-size="11.5" fill="#fff" textLength="23.2" lengthAdjust="spacingAndGlyphs" font-weight="bold">1.27</text>
<text x="57.3" y="94.5" font-size="35" fill="#fff" textLength="34.5" lengthAdjust="spacingAndGlyphs" stroke="url(#gr)" stroke-width="0.55">54</text>
<text x="95.6" y="79" font-size="11.5" fill="#fff" textLength="7.4" lengthAdjust="spacingAndGlyphs" font-weight="bold">6</text>
<text x="139.3" y="93.8" font-size="11.5" fill="#fff" textLength="23.2" lengthAdjust="spacingAndGlyphs" font-weight="bold">1.27</text>
<text x="167.9" y="94.5" font-size="35" fill="#fff" textLength="35.8" lengthAdjust="spacingAndGlyphs" stroke="url(#gr)" stroke-width="0.55">56</text>
<text x="207.4" y="79" font-size="11.5" fill="#fff" textLength="6.6" lengthAdjust="spacingAndGlyphs" font-weight="bold">3</text>
</g>
</g>
<g id="chart-tabs" aria-label="Chart tabs">
<rect x="3" y="679" width="1206" height="1" fill="#e3e3e3"/>
<rect x="3" y="680" width="1206" height="1" fill="#fff"/>
<rect x="0" y="682" width="1209" height="19" fill="#f0f0f0"/>
<rect x="0" y="701" width="1209" height="1" fill="#fbfbfb"/>
<rect x="0" y="702" width="1209" height="3" fill="#f0f0f0"/>
<rect x="1" y="682" width="1" height="18" fill="#a0a0a0"/>
<rect x="2" y="682" width="1" height="17" fill="#696969"/>
<rect x="0" y="700" width="2" height="1" fill="#a0a0a0"/>
<rect x="292" y="681" width="102" height="18" fill="#fff"/>
<rect x="1" y="681" width="291" height="1" fill="#000"/>
<rect x="394" y="681" width="815" height="1" fill="#000"/>
<rect x="291" y="681" width="1" height="19" fill="#000"/>
<rect x="394" y="681" width="1" height="19" fill="#000"/>
<rect x="291" y="699" width="104" height="1" fill="#000"/>
<g style="shape-rendering:auto">
<text x="19.3" y="696" font-size="13" fill="#6b6b6b" textLength="67.9" lengthAdjust="spacingAndGlyphs">EURUSD,H4</text>
<text x="110.3" y="696" font-size="13" fill="#6b6b6b" textLength="82.1" lengthAdjust="spacingAndGlyphs">AUDUSD,Daily</text>
<text x="213.3" y="696" font-size="13" fill="#6b6b6b" textLength="67.3" lengthAdjust="spacingAndGlyphs">USDCHF,H4</text>
<text x="302.3" y="696" font-size="13" fill="#000" textLength="80.8" lengthAdjust="spacingAndGlyphs">USDCAD,Daily</text>
<text x="405.4" y="696" font-size="13" fill="#6b6b6b" textLength="82.9" lengthAdjust="spacingAndGlyphs">USDCNH,Daily</text>
<text x="511.3" y="696" font-size="13" fill="#6b6b6b" textLength="64.0" lengthAdjust="spacingAndGlyphs">UKOil,Daily</text>
<text x="597.1" y="696" font-size="13" fill="#6b6b6b" textLength="46.6" lengthAdjust="spacingAndGlyphs">DJ30,H1</text>
<text x="667.4" y="696" font-size="13" fill="#6b6b6b" textLength="51.4" lengthAdjust="spacingAndGlyphs">USDX,H1</text>
<text x="741.7" y="696" font-size="13" fill="#6b6b6b" textLength="69.7" lengthAdjust="spacingAndGlyphs">XAUUSD,H4</text>
<text x="834.8" y="696" font-size="13" fill="#6b6b6b" textLength="68.5" lengthAdjust="spacingAndGlyphs">GBPUSD,H1</text>
</g>
<rect x="99" y="684" width="1" height="14" fill="#6b6b6b"/>
<rect x="203" y="684" width="1" height="14" fill="#6b6b6b"/>
<rect x="499" y="684" width="1" height="14" fill="#6b6b6b"/>
<rect x="587" y="684" width="1" height="14" fill="#6b6b6b"/>
<rect x="655" y="684" width="1" height="14" fill="#6b6b6b"/>
<rect x="731" y="684" width="1" height="14" fill="#6b6b6b"/>
<rect x="823" y="684" width="1" height="14" fill="#6b6b6b"/>
<rect x="915" y="684" width="1" height="14" fill="#6b6b6b"/>
<rect x="395" y="682" width="1" height="18" fill="#f9f9f9"/>
<path d="M1187 687v7l-3.5-3.5z" fill="#8e8e8e" style="shape-rendering:auto"/>
<path d="M1203 687v7l3.5-3.5z" fill="#8e8e8e" style="shape-rendering:auto"/>
</g>
</svg>
</body></html>
